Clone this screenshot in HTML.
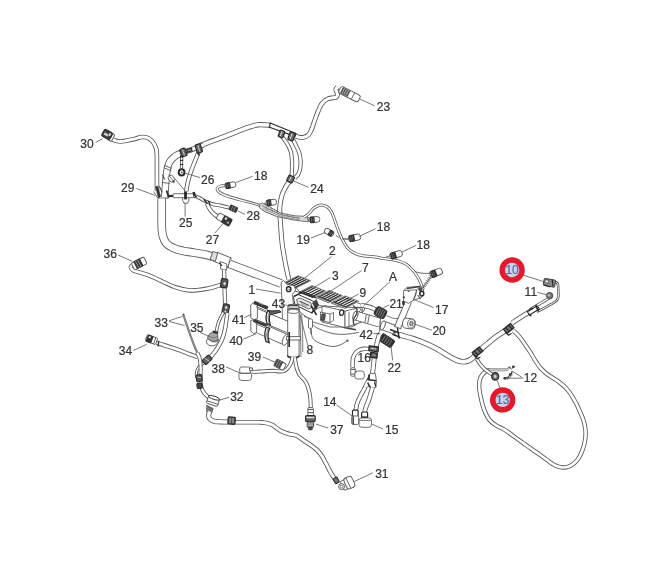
<!DOCTYPE html>
<html><head><meta charset="utf-8"><title>Parts diagram</title>
<style>
html,body{margin:0;padding:0;background:#fff;}
body{width:670px;height:578px;overflow:hidden;font-family:"Liberation Sans",sans-serif;}
svg{display:block;}
svg text{font-family:"Liberation Sans",sans-serif;}
</style></head><body>
<svg width="670" height="578" viewBox="0 0 670 578">
<defs><filter id="idf" x="0" y="0" width="670" height="578" filterUnits="userSpaceOnUse"><feColorMatrix type="matrix" values="1 0 0 0 0 0 1 0 0 0 0 0 1 0 0 0 0 0 1 0"/></filter></defs>
<rect width="670" height="578" fill="#fff"/>
<path d="M290.6 179.5C289.8 180.7 287.4 183.9 286.0 186.5C284.6 189.1 283.0 191.6 282.0 195.0C281.0 198.4 280.1 203.5 279.8 207.0C279.5 210.5 279.9 213.0 280.0 216.0C280.1 219.0 280.4 221.7 280.6 225.0C280.8 228.3 281.1 232.3 281.4 236.0C281.7 239.7 281.9 242.3 282.6 247.0C283.3 251.7 284.6 258.9 285.6 264.3C286.6 269.7 288.3 276.8 288.8 279.3" fill="none" stroke="#565656" stroke-width="5.00" stroke-linecap="butt" stroke-linejoin="round"/>
<path d="M290.6 179.5C289.8 180.7 287.4 183.9 286.0 186.5C284.6 189.1 283.0 191.6 282.0 195.0C281.0 198.4 280.1 203.5 279.8 207.0C279.5 210.5 279.9 213.0 280.0 216.0C280.1 219.0 280.4 221.7 280.6 225.0C280.8 228.3 281.1 232.3 281.4 236.0C281.7 239.7 281.9 242.3 282.6 247.0C283.3 251.7 284.6 258.9 285.6 264.3C286.6 269.7 288.3 276.8 288.8 279.3" fill="none" stroke="#fff" stroke-width="3.30" stroke-linecap="butt" stroke-linejoin="round"/>
<path d="M200.5 145.3C202.9 144.4 208.8 142.4 215.0 140.1C221.2 137.8 232.5 133.3 238.0 131.2C243.5 129.1 244.7 128.6 248.0 127.5C251.3 126.4 254.2 125.2 258.0 124.8C261.8 124.4 268.4 125.1 270.5 125.2" fill="none" stroke="#565656" stroke-width="5.30" stroke-linecap="butt" stroke-linejoin="round"/>
<path d="M200.5 145.3C202.9 144.4 208.8 142.4 215.0 140.1C221.2 137.8 232.5 133.3 238.0 131.2C243.5 129.1 244.7 128.6 248.0 127.5C251.3 126.4 254.2 125.2 258.0 124.8C261.8 124.4 268.4 125.1 270.5 125.2" fill="none" stroke="#fff" stroke-width="3.60" stroke-linecap="butt" stroke-linejoin="round"/>
<path d="M294.0 135.3C294.8 135.6 297.3 136.9 299.0 137.2C300.7 137.5 302.4 137.6 304.0 137.2C305.6 136.8 307.2 136.1 308.5 134.8C309.8 133.5 310.5 131.8 311.5 129.5C312.5 127.2 313.4 124.0 314.5 121.0C315.6 118.0 316.8 114.4 318.0 111.5C319.2 108.6 320.4 105.6 322.0 103.5C323.6 101.4 325.7 100.0 327.5 99.0C329.3 98.0 331.5 98.1 333.0 97.8C334.5 97.5 335.6 97.6 336.4 97.0C337.1 96.4 337.5 95.0 337.5 94.0C337.5 93.0 336.4 91.9 336.2 91.0C335.9 90.1 335.8 89.4 336.0 88.8C336.2 88.2 337.3 87.5 337.6 87.2" fill="none" stroke="#565656" stroke-width="4.80" stroke-linecap="butt" stroke-linejoin="round"/>
<path d="M294.0 135.3C294.8 135.6 297.3 136.9 299.0 137.2C300.7 137.5 302.4 137.6 304.0 137.2C305.6 136.8 307.2 136.1 308.5 134.8C309.8 133.5 310.5 131.8 311.5 129.5C312.5 127.2 313.4 124.0 314.5 121.0C315.6 118.0 316.8 114.4 318.0 111.5C319.2 108.6 320.4 105.6 322.0 103.5C323.6 101.4 325.7 100.0 327.5 99.0C329.3 98.0 331.5 98.1 333.0 97.8C334.5 97.5 335.6 97.6 336.4 97.0C337.1 96.4 337.5 95.0 337.5 94.0C337.5 93.0 336.4 91.9 336.2 91.0C335.9 90.1 335.8 89.4 336.0 88.8C336.2 88.2 337.3 87.5 337.6 87.2" fill="none" stroke="#fff" stroke-width="3.10" stroke-linecap="butt" stroke-linejoin="round"/>
<path d="M280.5 135.0C281.2 135.9 283.6 138.6 285.0 140.5C286.4 142.4 287.7 144.5 288.7 146.5C289.7 148.5 290.4 150.2 291.0 152.5C291.6 154.8 291.8 157.4 292.0 160.0C292.2 162.6 292.1 165.3 292.0 168.0C291.9 170.7 291.7 174.7 291.6 176.0" fill="none" stroke="#565656" stroke-width="4.20" stroke-linecap="butt" stroke-linejoin="round"/>
<path d="M280.5 135.0C281.2 135.9 283.6 138.6 285.0 140.5C286.4 142.4 287.7 144.5 288.7 146.5C289.7 148.5 290.4 150.2 291.0 152.5C291.6 154.8 291.8 157.4 292.0 160.0C292.2 162.6 292.1 165.3 292.0 168.0C291.9 170.7 291.7 174.7 291.6 176.0" fill="none" stroke="#fff" stroke-width="2.50" stroke-linecap="butt" stroke-linejoin="round"/>
<path d="M293.0 139.5C293.5 140.5 295.0 143.4 296.0 145.5C297.0 147.6 298.3 149.9 299.0 152.0C299.7 154.1 300.0 156.0 300.3 158.0C300.6 160.0 300.7 162.0 300.6 164.0C300.5 166.0 300.2 168.2 299.8 170.0C299.4 171.8 298.9 173.1 298.0 174.5C297.1 175.9 295.1 177.8 294.5 178.5" fill="none" stroke="#565656" stroke-width="4.20" stroke-linecap="butt" stroke-linejoin="round"/>
<path d="M293.0 139.5C293.5 140.5 295.0 143.4 296.0 145.5C297.0 147.6 298.3 149.9 299.0 152.0C299.7 154.1 300.0 156.0 300.3 158.0C300.6 160.0 300.7 162.0 300.6 164.0C300.5 166.0 300.2 168.2 299.8 170.0C299.4 171.8 298.9 173.1 298.0 174.5C297.1 175.9 295.1 177.8 294.5 178.5" fill="none" stroke="#fff" stroke-width="2.50" stroke-linecap="butt" stroke-linejoin="round"/>
<path d="M270.2 123.0L296.0 133.5L295.0 136.4L269.4 127.2Z" fill="#fff" stroke="#2b2b2b" stroke-width="1.20" stroke-linecap="butt" stroke-linejoin="round"/>
<rect x="279.0" y="130.5" width="5.0" height="7.0" rx="1.0" fill="#6a6a6a" stroke="#2a2a2a" stroke-width="1.20" transform="rotate(20.0 281.5 134.0)"/>
<line x1="281.1" y1="131.5" x2="281.1" y2="136.5" stroke="#e8e8e8" stroke-width="0.9" transform="rotate(20.0 281.5 134.0)"/>
<rect x="288.8" y="132.5" width="5.5" height="8.0" rx="1.0" fill="#6a6a6a" stroke="#2a2a2a" stroke-width="1.20" transform="rotate(20.0 291.5 136.5)"/>
<line x1="291.1" y1="133.5" x2="291.1" y2="139.5" stroke="#e8e8e8" stroke-width="0.9" transform="rotate(20.0 291.5 136.5)"/>
<g transform="rotate(27 349 94)">
<rect x="338.5" y="90.3" width="22" height="7.4" rx="2.2" fill="#fff" stroke="#565656" stroke-width="0.9"/>
<rect x="340.5" y="90.6" width="8.5" height="6.8" fill="#555" stroke="none"/>
<line x1="342.5" y1="91" x2="342.5" y2="97" stroke="#ddd" stroke-width="0.6"/>
<line x1="344.7" y1="91" x2="344.7" y2="97" stroke="#ddd" stroke-width="0.6"/>
<line x1="346.9" y1="91" x2="346.9" y2="97" stroke="#ddd" stroke-width="0.6"/>
<line x1="353.5" y1="90.3" x2="353.5" y2="97.7" stroke="#565656" stroke-width="0.8"/>
</g>
<rect x="287.6" y="175.8" width="6.0" height="6.5" rx="1.0" fill="#6a6a6a" stroke="#2a2a2a" stroke-width="1.20" transform="rotate(25.0 290.6 179.0)"/>
<line x1="290.2" y1="176.8" x2="290.2" y2="181.2" stroke="#e8e8e8" stroke-width="0.9" transform="rotate(25.0 290.6 179.0)"/>
<path d="M112.0 139.0C112.7 139.3 114.5 140.4 116.0 140.8C117.5 141.2 119.3 141.5 121.0 141.5C122.7 141.5 123.7 141.1 126.0 140.7C128.3 140.3 132.6 139.5 135.0 138.9C137.4 138.3 138.5 137.4 140.4 137.2C142.3 136.9 144.4 136.8 146.3 137.4C148.2 138.0 150.6 139.4 152.1 141.0C153.6 142.6 154.7 144.8 155.5 146.8C156.3 148.8 156.6 149.1 156.8 153.0C157.0 156.9 156.9 163.7 156.9 170.0C156.9 176.3 157.0 187.5 157.0 191.0" fill="none" stroke="#565656" stroke-width="4.60" stroke-linecap="butt" stroke-linejoin="round"/>
<path d="M112.0 139.0C112.7 139.3 114.5 140.4 116.0 140.8C117.5 141.2 119.3 141.5 121.0 141.5C122.7 141.5 123.7 141.1 126.0 140.7C128.3 140.3 132.6 139.5 135.0 138.9C137.4 138.3 138.5 137.4 140.4 137.2C142.3 136.9 144.4 136.8 146.3 137.4C148.2 138.0 150.6 139.4 152.1 141.0C153.6 142.6 154.7 144.8 155.5 146.8C156.3 148.8 156.6 149.1 156.8 153.0C157.0 156.9 156.9 163.7 156.9 170.0C156.9 176.3 157.0 187.5 157.0 191.0" fill="none" stroke="#fff" stroke-width="2.90" stroke-linecap="butt" stroke-linejoin="round"/>
<g transform="rotate(28 108 135.4)">
<rect x="109.2" y="131.6" width="4.6" height="7.6" rx="1" fill="#fff" stroke="#565656" stroke-width=".9"/>
<rect x="102" y="131" width="9.6" height="8" rx="1.6" fill="#3a3a3a" stroke="#2b2b2b" stroke-width=".8"/>
<rect x="103.6" y="134.2" width="4.4" height="2.6" fill="#c8c8c8"/>
<rect x="108.4" y="132.4" width="1.6" height="3" fill="#eee"/>
</g>
<path d="M199.2 150.5C198.9 151.2 198.1 153.2 197.6 154.5C197.1 155.8 196.8 156.5 196.0 158.5C195.2 160.5 193.8 163.8 192.8 166.5C191.8 169.2 190.7 172.2 189.8 175.0C188.9 177.8 188.2 180.2 187.6 183.0C187.0 185.8 186.4 190.1 186.2 191.5" fill="none" stroke="#565656" stroke-width="4.40" stroke-linecap="butt" stroke-linejoin="round"/>
<path d="M199.2 150.5C198.9 151.2 198.1 153.2 197.6 154.5C197.1 155.8 196.8 156.5 196.0 158.5C195.2 160.5 193.8 163.8 192.8 166.5C191.8 169.2 190.7 172.2 189.8 175.0C188.9 177.8 188.2 180.2 187.6 183.0C187.0 185.8 186.4 190.1 186.2 191.5" fill="none" stroke="#fff" stroke-width="2.70" stroke-linecap="butt" stroke-linejoin="round"/>
<path d="M174.4 178.2L185.4 191.2" fill="none" stroke="#565656" stroke-width="0.80" stroke-linecap="butt" stroke-linejoin="round"/>
<path d="M181.0 153.2C180.3 153.5 178.3 154.3 177.0 155.0C175.7 155.7 174.5 156.7 173.4 157.6C172.3 158.5 171.4 159.6 170.6 160.6C169.8 161.6 169.3 162.5 168.8 163.8C168.3 165.1 167.8 166.7 167.4 168.5C167.0 170.3 166.7 172.6 166.4 174.8C166.1 177.1 166.0 179.5 165.8 182.0C165.6 184.5 165.4 187.4 165.2 190.0C165.0 192.6 164.7 196.2 164.6 197.4" fill="none" stroke="#565656" stroke-width="7.40" stroke-linecap="butt" stroke-linejoin="round"/>
<path d="M181.0 153.2C180.3 153.5 178.3 154.3 177.0 155.0C175.7 155.7 174.5 156.7 173.4 157.6C172.3 158.5 171.4 159.6 170.6 160.6C169.8 161.6 169.3 162.5 168.8 163.8C168.3 165.1 167.8 166.7 167.4 168.5C167.0 170.3 166.7 172.6 166.4 174.8C166.1 177.1 166.0 179.5 165.8 182.0C165.6 184.5 165.4 187.4 165.2 190.0C165.0 192.6 164.7 196.2 164.6 197.4" fill="none" stroke="#fff" stroke-width="5.70" stroke-linecap="butt" stroke-linejoin="round"/>
<path d="M164.4 165.4L171.8 168.4" fill="none" stroke="#565656" stroke-width="0.90" stroke-linecap="butt" stroke-linejoin="round"/>
<path d="M163.8 167.8L171.2 170.8" fill="none" stroke="#565656" stroke-width="0.90" stroke-linecap="butt" stroke-linejoin="round"/>
<path d="M162.6 174.6L164.6 179.6" fill="none" stroke="#444" stroke-width="1.20" stroke-linecap="butt" stroke-linejoin="round"/>
<path d="M161.6 182.4L169.8 183.4" fill="none" stroke="#565656" stroke-width="0.90" stroke-linecap="butt" stroke-linejoin="round"/>
<ellipse cx="171.4" cy="178.6" rx="2.8" ry="3.6" fill="#fff" stroke="#565656" stroke-width="0.85" transform="rotate(-35.0 171.4 178.6)"/>
<path d="M168.4 174.6L174.2 182.4" fill="none" stroke="#565656" stroke-width="0.80" stroke-linecap="butt" stroke-linejoin="round"/>
<ellipse cx="173.6" cy="181.6" rx="1.1" ry="1.1" fill="#333" stroke="none" stroke-width="0.00" transform="rotate(0.0 173.6 181.6)"/>
<path d="M179.5 153.6L190.0 150.2L200.5 146.2L203.8 144.9" fill="none" stroke="#565656" stroke-width="5.20" stroke-linecap="butt" stroke-linejoin="round"/>
<path d="M179.5 153.6L190.0 150.2L200.5 146.2L203.8 144.9" fill="none" stroke="#fff" stroke-width="3.50" stroke-linecap="butt" stroke-linejoin="round"/>
<rect x="180.7" y="148.5" width="5.4" height="7.8" rx="1.0" fill="#666" stroke="#2b2b2b" stroke-width="1.20" transform="rotate(-18.0 183.4 152.4)"/>
<path d="M182.4 149.6L184.6 155.6" fill="none" stroke="#ddd" stroke-width="0.80" stroke-linecap="butt" stroke-linejoin="round"/>
<rect x="196.1" y="144.1" width="5.4" height="8.6" rx="1.0" fill="#666" stroke="#2b2b2b" stroke-width="1.20" transform="rotate(-18.0 198.8 148.4)"/>
<path d="M197.8 145.2L200.0 151.8" fill="none" stroke="#ddd" stroke-width="0.80" stroke-linecap="butt" stroke-linejoin="round"/>
<path d="M186.6 149.6L191.4 148.0L192.0 150.8L187.4 152.4Z" fill="#888" stroke="#2b2b2b" stroke-width="1.20" stroke-linecap="butt" stroke-linejoin="round"/>
<path d="M197.4 152.6L199.4 155.4" fill="none" stroke="#2b2b2b" stroke-width="1.60" stroke-linecap="butt" stroke-linejoin="round"/>
<path d="M181.6 156.0L181.5 168.5" fill="none" stroke="#565656" stroke-width="3.20" stroke-linecap="butt" stroke-linejoin="round"/>
<path d="M181.6 156.0L181.5 168.5" fill="none" stroke="#fff" stroke-width="1.50" stroke-linecap="butt" stroke-linejoin="round"/>
<path d="M180.0 156.6L183.2 156.6" fill="none" stroke="#2b2b2b" stroke-width="1.80" stroke-linecap="butt" stroke-linejoin="round"/>
<path d="M180.0 160.4L183.2 160.4" fill="none" stroke="#2b2b2b" stroke-width="1.10" stroke-linecap="butt" stroke-linejoin="round"/>
<path d="M180.0 164.5L183.2 164.5" fill="none" stroke="#2b2b2b" stroke-width="1.10" stroke-linecap="butt" stroke-linejoin="round"/>
<ellipse cx="181.6" cy="172.4" rx="2.9" ry="3.1" fill="#fff" stroke="#2b2b2b" stroke-width="2.00" transform="rotate(0.0 181.6 172.4)"/>
<ellipse cx="181.8" cy="172.6" rx="1.0" ry="1.0" fill="#555" stroke="none" stroke-width="0.00" transform="rotate(0.0 181.8 172.6)"/>
<path d="M155.6 186.6L157.6 186.2L160.6 196.4L158.4 198.2Z" fill="#333" stroke="#2b2b2b" stroke-width="0.60" stroke-linecap="butt" stroke-linejoin="round"/>
<path d="M153.6 191.5L158.0 198.5" fill="none" stroke="#565656" stroke-width="0.80" stroke-linecap="butt" stroke-linejoin="round"/>
<path d="M159.4 186.4L162.2 192.4" fill="none" stroke="#2b2b2b" stroke-width="1.00" stroke-linecap="butt" stroke-linejoin="round"/>
<path d="M166.6 190.6L168.8 197.6" fill="none" stroke="#2b2b2b" stroke-width="1.80" stroke-linecap="butt" stroke-linejoin="round"/>
<path d="M158.0 198.2L168.4 198.2" fill="none" stroke="#565656" stroke-width="0.90" stroke-linecap="butt" stroke-linejoin="round"/>
<path d="M161.7 198.5C161.7 201.2 161.7 210.1 161.7 215.0C161.7 219.9 161.6 224.4 161.8 228.0C162.0 231.6 162.2 233.9 163.0 236.5C163.8 239.1 164.6 241.4 166.3 243.3C168.0 245.2 170.3 246.6 173.0 247.8C175.7 249.1 179.4 250.1 182.6 250.8C185.8 251.6 188.9 251.8 192.0 252.3C195.1 252.8 198.9 253.5 201.4 253.9C203.9 254.3 205.1 254.5 207.0 255.0C208.9 255.5 211.8 256.5 212.7 256.8" fill="none" stroke="#565656" stroke-width="8.60" stroke-linecap="butt" stroke-linejoin="round"/>
<path d="M161.7 198.5C161.7 201.2 161.7 210.1 161.7 215.0C161.7 219.9 161.6 224.4 161.8 228.0C162.0 231.6 162.2 233.9 163.0 236.5C163.8 239.1 164.6 241.4 166.3 243.3C168.0 245.2 170.3 246.6 173.0 247.8C175.7 249.1 179.4 250.1 182.6 250.8C185.8 251.6 188.9 251.8 192.0 252.3C195.1 252.8 198.9 253.5 201.4 253.9C203.9 254.3 205.1 254.5 207.0 255.0C208.9 255.5 211.8 256.5 212.7 256.8" fill="none" stroke="#fff" stroke-width="6.90" stroke-linecap="butt" stroke-linejoin="round"/>
<path d="M229.0 263.8L281.0 283.5" fill="none" stroke="#565656" stroke-width="8.60" stroke-linecap="butt" stroke-linejoin="round"/>
<path d="M229.0 263.8L281.0 283.5" fill="none" stroke="#fff" stroke-width="6.90" stroke-linecap="butt" stroke-linejoin="round"/>
<path d="M215.0 256.6L230.0 262.6" fill="none" stroke="#565656" stroke-width="10.40" stroke-linecap="butt" stroke-linejoin="round"/>
<path d="M215.0 256.6L230.0 262.6" fill="none" stroke="#fff" stroke-width="8.70" stroke-linecap="butt" stroke-linejoin="round"/>
<path d="M230.6 257.6L227.6 268.2" fill="none" stroke="#565656" stroke-width="1.00" stroke-linecap="butt" stroke-linejoin="round"/>
<path d="M211.2 255.4L216.4 257.2" fill="none" stroke="#565656" stroke-width="9.40" stroke-linecap="butt" stroke-linejoin="round"/>
<path d="M211.2 255.4L216.4 257.2" fill="none" stroke="#ddd" stroke-width="7.70" stroke-linecap="butt" stroke-linejoin="round"/>
<path d="M212.8 251.6L210.2 259.6" fill="none" stroke="#565656" stroke-width="0.90" stroke-linecap="butt" stroke-linejoin="round"/>
<path d="M217.8 252.6L215.4 261.4" fill="none" stroke="#565656" stroke-width="0.90" stroke-linecap="butt" stroke-linejoin="round"/>
<path d="M168.0 196.2L173.5 195.8" fill="none" stroke="#2b2b2b" stroke-width="2.20" stroke-linecap="butt" stroke-linejoin="round"/>
<rect x="173.1" y="193.7" width="20.5" height="4.0" rx="0.6" fill="#fff" stroke="#565656" stroke-width="0.85" transform="rotate(0.0 183.3 195.7)"/>
<path d="M185.5 191.4L185.5 199.4" fill="none" stroke="#2b2b2b" stroke-width="2.80" stroke-linecap="butt" stroke-linejoin="round"/>
<path d="M193.6 192.0L195.4 198.0" fill="none" stroke="#2b2b2b" stroke-width="2.60" stroke-linecap="butt" stroke-linejoin="round"/>
<path d="M182.6 198.0L182.6 200.5L184.0 203.2L187.5 203.2L188.9 200.5L188.9 198.0" fill="none" stroke="#565656" stroke-width="0.90" stroke-linecap="butt" stroke-linejoin="round"/>
<path d="M194.0 195.6C194.9 196.0 197.6 197.1 199.5 198.0C201.4 198.9 204.2 200.8 205.2 201.3" fill="none" stroke="#565656" stroke-width="3.60" stroke-linecap="butt" stroke-linejoin="round"/>
<path d="M194.0 195.6C194.9 196.0 197.6 197.1 199.5 198.0C201.4 198.9 204.2 200.8 205.2 201.3" fill="none" stroke="#fff" stroke-width="1.90" stroke-linecap="butt" stroke-linejoin="round"/>
<path d="M193.8 194.0L196.5 197.5" fill="none" stroke="#2b2b2b" stroke-width="1.60" stroke-linecap="butt" stroke-linejoin="round"/>
<path d="M205.0 201.2C206.3 201.7 210.2 203.5 212.7 204.2C215.2 204.9 217.3 204.8 220.0 205.4C222.7 206.0 227.3 207.2 228.8 207.6" fill="none" stroke="#565656" stroke-width="3.80" stroke-linecap="butt" stroke-linejoin="round"/>
<path d="M205.0 201.2C206.3 201.7 210.2 203.5 212.7 204.2C215.2 204.9 217.3 204.8 220.0 205.4C222.7 206.0 227.3 207.2 228.8 207.6" fill="none" stroke="#fff" stroke-width="2.10" stroke-linecap="butt" stroke-linejoin="round"/>
<path d="M207.2 203.5C207.4 204.1 207.9 205.7 208.6 207.0C209.3 208.3 210.5 210.3 211.6 211.6C212.7 212.9 213.8 213.8 215.0 214.8C216.2 215.8 218.0 217.0 218.6 217.4" fill="none" stroke="#565656" stroke-width="4.40" stroke-linecap="butt" stroke-linejoin="round"/>
<path d="M207.2 203.5C207.4 204.1 207.9 205.7 208.6 207.0C209.3 208.3 210.5 210.3 211.6 211.6C212.7 212.9 213.8 213.8 215.0 214.8C216.2 215.8 218.0 217.0 218.6 217.4" fill="none" stroke="#fff" stroke-width="2.70" stroke-linecap="butt" stroke-linejoin="round"/>
<path d="M203.8 199.2L207.5 203.8" fill="none" stroke="#2b2b2b" stroke-width="1.50" stroke-linecap="butt" stroke-linejoin="round"/>
<path d="M208.5 201.0L210.0 205.2" fill="none" stroke="#2b2b2b" stroke-width="1.40" stroke-linecap="butt" stroke-linejoin="round"/>
<g transform="rotate(25 233.2 208.6)"><rect x="229" y="205.6" width="8.6" height="6" rx="1" fill="#3a3a3a"/><line x1="232" y1="206" x2="232" y2="211.4" stroke="#aaa" stroke-width=".6"/><line x1="234.6" y1="206" x2="234.6" y2="211.4" stroke="#aaa" stroke-width=".6"/></g>
<g transform="rotate(30 224.6 219.6)"><rect x="216.6" y="216.2" width="8" height="6.8" rx="2" fill="#fff" stroke="#565656" stroke-width="0.9"/><rect x="222.4" y="215.4" width="9.6" height="8.4" rx="1.6" fill="#333"/><rect x="224.2" y="216.8" width="2.2" height="2.4" fill="#e0e0e0"/><rect x="228" y="219.6" width="2" height="2" fill="#bbb"/></g>
<path d="M225.0 185.2C224.2 185.4 221.3 185.8 220.0 186.3C218.7 186.8 217.4 187.5 217.2 188.4C217.0 189.3 217.7 190.9 218.8 192.0C219.9 193.1 222.1 194.0 224.0 194.8C225.9 195.6 226.3 195.9 230.0 197.0C233.7 198.1 241.5 200.1 246.3 201.4C251.1 202.8 254.9 203.4 258.9 205.1C262.9 206.8 265.8 209.6 270.2 211.4C274.6 213.2 280.4 215.1 285.2 216.2C290.0 217.3 295.0 217.6 299.0 218.0C303.0 218.4 307.3 218.3 309.0 218.4" fill="none" stroke="#565656" stroke-width="3.00" stroke-linecap="butt" stroke-linejoin="round"/>
<path d="M225.0 185.2C224.2 185.4 221.3 185.8 220.0 186.3C218.7 186.8 217.4 187.5 217.2 188.4C217.0 189.3 217.7 190.9 218.8 192.0C219.9 193.1 222.1 194.0 224.0 194.8C225.9 195.6 226.3 195.9 230.0 197.0C233.7 198.1 241.5 200.1 246.3 201.4C251.1 202.8 254.9 203.4 258.9 205.1C262.9 206.8 265.8 209.6 270.2 211.4C274.6 213.2 280.4 215.1 285.2 216.2C290.0 217.3 295.0 217.6 299.0 218.0C303.0 218.4 307.3 218.3 309.0 218.4" fill="none" stroke="#fff" stroke-width="1.50" stroke-linecap="butt" stroke-linejoin="round"/>
<path d="M218.4 189.4C219.4 190.1 222.5 192.7 224.6 193.8C226.7 194.9 227.4 195.1 231.0 196.2C234.6 197.3 241.6 199.2 246.3 200.6C251.0 202.0 256.9 203.8 259.0 204.4" fill="none" stroke="#777" stroke-width="0.60" stroke-linecap="butt" stroke-linejoin="round"/>
<path d="M266.0 203.6C265.3 204.0 262.3 204.9 262.0 206.0C261.7 207.1 262.3 208.7 264.0 210.0C265.7 211.3 268.3 212.3 272.0 213.6C275.7 214.9 281.3 216.6 286.0 217.6C290.7 218.6 296.2 219.2 300.0 219.6C303.8 220.0 307.5 219.8 309.0 219.8" fill="none" stroke="#565656" stroke-width="2.00" stroke-linecap="butt" stroke-linejoin="round"/>
<path d="M266.0 203.6C265.3 204.0 262.3 204.9 262.0 206.0C261.7 207.1 262.3 208.7 264.0 210.0C265.7 211.3 268.3 212.3 272.0 213.6C275.7 214.9 281.3 216.6 286.0 217.6C290.7 218.6 296.2 219.2 300.0 219.6C303.8 220.0 307.5 219.8 309.0 219.8" fill="none" stroke="#fff" stroke-width="0.70" stroke-linecap="butt" stroke-linejoin="round"/>
<path d="M259.6 204.2L262.4 203.0L272.0 208.2L281.0 213.2L295.0 215.8L307.0 216.4L308.5 221.8L294.5 220.2L276.5 216.5L265.0 211.7L259.6 208.0Z" fill="#d8d8d8" stroke="#565656" stroke-width="0.80" stroke-linecap="butt" stroke-linejoin="round"/>
<path d="M262.0 205.6L281.0 214.8L300.0 218.4" fill="none" stroke="#555" stroke-width="0.70" stroke-linecap="butt" stroke-linejoin="round"/>
<path d="M263.0 208.4L280.0 216.0L298.0 219.8" fill="none" stroke="#777" stroke-width="0.60" stroke-linecap="butt" stroke-linejoin="round"/>
<path d="M266.0 206.4L267.6 210.2" fill="none" stroke="#666" stroke-width="0.60" stroke-linecap="butt" stroke-linejoin="round"/>
<path d="M271.2 208.2L272.8 211.9" fill="none" stroke="#666" stroke-width="0.60" stroke-linecap="butt" stroke-linejoin="round"/>
<path d="M276.4 209.9L278.0 213.7" fill="none" stroke="#666" stroke-width="0.60" stroke-linecap="butt" stroke-linejoin="round"/>
<path d="M281.6 211.7L283.2 215.4" fill="none" stroke="#666" stroke-width="0.60" stroke-linecap="butt" stroke-linejoin="round"/>
<path d="M286.8 213.4L288.4 217.2" fill="none" stroke="#666" stroke-width="0.60" stroke-linecap="butt" stroke-linejoin="round"/>
<path d="M292.0 215.2L293.6 218.9" fill="none" stroke="#666" stroke-width="0.60" stroke-linecap="butt" stroke-linejoin="round"/>
<path d="M297.2 216.9L298.8 220.7" fill="none" stroke="#666" stroke-width="0.60" stroke-linecap="butt" stroke-linejoin="round"/>
<path d="M304.0 217.4C304.8 216.8 307.5 214.9 309.0 213.5C310.5 212.1 311.6 210.1 313.0 208.8C314.4 207.6 315.8 206.6 317.5 206.0C319.2 205.4 321.2 204.9 323.0 205.2C324.8 205.4 326.5 206.3 328.0 207.5C329.5 208.7 330.7 210.5 331.8 212.5C332.9 214.5 333.6 216.9 334.5 219.5C335.4 222.1 336.3 224.8 337.5 228.0C338.7 231.2 340.1 235.1 341.8 238.5C343.6 241.9 345.6 245.8 348.0 248.4C350.4 251.0 353.2 252.5 356.0 253.8C358.8 255.1 361.8 255.5 365.0 256.0C368.2 256.5 372.0 256.6 375.2 257.0C378.4 257.4 381.0 258.1 384.0 258.6C387.0 259.1 390.2 259.3 393.0 259.8C395.8 260.3 398.7 261.0 401.0 261.8C403.3 262.6 405.3 263.6 407.0 264.8C408.7 266.0 410.0 267.4 411.4 268.8C412.8 270.2 414.2 271.8 415.4 273.5C416.6 275.2 417.8 277.2 418.8 279.0C419.8 280.8 420.7 282.9 421.4 284.5C422.1 286.1 422.7 287.8 423.0 288.4" fill="none" stroke="#565656" stroke-width="3.00" stroke-linecap="butt" stroke-linejoin="round"/>
<path d="M304.0 217.4C304.8 216.8 307.5 214.9 309.0 213.5C310.5 212.1 311.6 210.1 313.0 208.8C314.4 207.6 315.8 206.6 317.5 206.0C319.2 205.4 321.2 204.9 323.0 205.2C324.8 205.4 326.5 206.3 328.0 207.5C329.5 208.7 330.7 210.5 331.8 212.5C332.9 214.5 333.6 216.9 334.5 219.5C335.4 222.1 336.3 224.8 337.5 228.0C338.7 231.2 340.1 235.1 341.8 238.5C343.6 241.9 345.6 245.8 348.0 248.4C350.4 251.0 353.2 252.5 356.0 253.8C358.8 255.1 361.8 255.5 365.0 256.0C368.2 256.5 372.0 256.6 375.2 257.0C378.4 257.4 381.0 258.1 384.0 258.6C387.0 259.1 390.2 259.3 393.0 259.8C395.8 260.3 398.7 261.0 401.0 261.8C403.3 262.6 405.3 263.6 407.0 264.8C408.7 266.0 410.0 267.4 411.4 268.8C412.8 270.2 414.2 271.8 415.4 273.5C416.6 275.2 417.8 277.2 418.8 279.0C419.8 280.8 420.7 282.9 421.4 284.5C422.1 286.1 422.7 287.8 423.0 288.4" fill="none" stroke="#fff" stroke-width="1.50" stroke-linecap="butt" stroke-linejoin="round"/>
<g transform="rotate(-12.0 230.3 185.2)">
<rect x="224.8" y="182.5" width="11.0" height="5.4" rx="2.2" fill="#fff" stroke="#565656" stroke-width="0.9"/>
<rect x="225.4" y="182.0" width="5.1" height="6.4" rx="1.2" fill="#2c2c2c"/>
<line x1="227.2" y1="183.1" x2="227.2" y2="187.3" stroke="#999" stroke-width=".55"/>
<line x1="229.0" y1="183.1" x2="229.0" y2="187.3" stroke="#888" stroke-width=".5"/>
</g>
<g transform="rotate(-8.0 271.2 202.5)">
<rect x="265.9" y="199.7" width="10.5" height="5.6" rx="2.2" fill="#fff" stroke="#565656" stroke-width="0.9"/>
<rect x="266.6" y="199.2" width="4.8" height="6.6" rx="1.2" fill="#2c2c2c"/>
<line x1="268.3" y1="200.3" x2="268.3" y2="204.7" stroke="#999" stroke-width=".55"/>
<line x1="270.1" y1="200.3" x2="270.1" y2="204.7" stroke="#888" stroke-width=".5"/>
</g>
<g transform="rotate(-5.0 314.5 219.6)">
<rect x="309.2" y="216.8" width="10.5" height="5.6" rx="2.2" fill="#fff" stroke="#565656" stroke-width="0.9"/>
<rect x="309.9" y="216.3" width="4.8" height="6.6" rx="1.2" fill="#2c2c2c"/>
<line x1="311.6" y1="217.4" x2="311.6" y2="221.8" stroke="#999" stroke-width=".55"/>
<line x1="313.4" y1="217.4" x2="313.4" y2="221.8" stroke="#888" stroke-width=".5"/>
</g>
<g transform="rotate(-150.0 329.0 232.3)">
<rect x="324.2" y="229.6" width="9.5" height="5.4" rx="2.2" fill="#fff" stroke="#565656" stroke-width="0.9"/>
<rect x="324.9" y="229.1" width="4.4" height="6.4" rx="1.2" fill="#2c2c2c"/>
<line x1="326.6" y1="230.2" x2="326.6" y2="234.4" stroke="#999" stroke-width=".55"/>
<line x1="328.4" y1="230.2" x2="328.4" y2="234.4" stroke="#888" stroke-width=".5"/>
</g>
<g transform="rotate(-12.0 354.5 237.8)">
<rect x="348.5" y="234.8" width="12.0" height="6.0" rx="2.2" fill="#fff" stroke="#565656" stroke-width="0.9"/>
<rect x="349.1" y="234.3" width="5.5" height="7.0" rx="1.2" fill="#2c2c2c"/>
<line x1="350.9" y1="235.4" x2="350.9" y2="240.2" stroke="#999" stroke-width=".55"/>
<line x1="352.7" y1="235.4" x2="352.7" y2="240.2" stroke="#888" stroke-width=".5"/>
</g>
<g transform="rotate(-18.0 396.0 254.8)">
<rect x="389.8" y="251.8" width="12.5" height="6.0" rx="2.2" fill="#fff" stroke="#565656" stroke-width="0.9"/>
<rect x="390.4" y="251.3" width="5.8" height="7.0" rx="1.2" fill="#2c2c2c"/>
<line x1="392.1" y1="252.4" x2="392.1" y2="257.2" stroke="#999" stroke-width=".55"/>
<line x1="393.9" y1="252.4" x2="393.9" y2="257.2" stroke="#888" stroke-width=".5"/>
</g>
<path d="M336.0 235.5L339.5 238.0" fill="none" stroke="#565656" stroke-width="0.80" stroke-linecap="butt" stroke-linejoin="round"/>
<path d="M348.8 239.2L342.5 238.8" fill="none" stroke="#555" stroke-width="1.20" stroke-linecap="butt" stroke-linejoin="round"/>
<path d="M390.5 255.8L386.0 257.0" fill="none" stroke="#565656" stroke-width="0.80" stroke-linecap="butt" stroke-linejoin="round"/>
<path d="M220.2 261.5L226.8 264.0L226.6 270.0L220.6 269.0Z" fill="#fff" stroke="#565656" stroke-width="0.85" stroke-linecap="butt" stroke-linejoin="round"/>
<path d="M219.5 262.5L222.0 266.0" fill="none" stroke="#2b2b2b" stroke-width="1.20" stroke-linecap="butt" stroke-linejoin="round"/>
<path d="M224.0 269.5C224.1 271.2 224.3 275.6 224.4 280.0C224.5 284.4 224.6 291.2 224.8 296.0C225.0 300.8 225.3 306.8 225.4 309.0" fill="none" stroke="#565656" stroke-width="4.20" stroke-linecap="butt" stroke-linejoin="round"/>
<path d="M224.0 269.5C224.1 271.2 224.3 275.6 224.4 280.0C224.5 284.4 224.6 291.2 224.8 296.0C225.0 300.8 225.3 306.8 225.4 309.0" fill="none" stroke="#fff" stroke-width="2.50" stroke-linecap="butt" stroke-linejoin="round"/>
<path d="M132.6 264.5C132.3 265.0 130.7 266.4 130.8 267.4C131.0 268.4 131.5 269.6 133.5 270.6C135.5 271.6 139.8 272.3 143.0 273.4C146.2 274.4 149.2 275.4 152.7 276.9C156.2 278.4 160.2 280.5 164.0 282.2C167.8 283.9 171.3 285.9 175.3 287.2C179.3 288.5 184.2 289.7 187.8 290.2C191.4 290.7 194.1 290.4 197.0 290.2C199.9 290.0 202.6 289.5 205.3 289.0C208.0 288.5 210.5 288.1 213.0 287.4C215.5 286.7 219.2 285.4 220.5 285.0" fill="none" stroke="#565656" stroke-width="4.40" stroke-linecap="butt" stroke-linejoin="round"/>
<path d="M132.6 264.5C132.3 265.0 130.7 266.4 130.8 267.4C131.0 268.4 131.5 269.6 133.5 270.6C135.5 271.6 139.8 272.3 143.0 273.4C146.2 274.4 149.2 275.4 152.7 276.9C156.2 278.4 160.2 280.5 164.0 282.2C167.8 283.9 171.3 285.9 175.3 287.2C179.3 288.5 184.2 289.7 187.8 290.2C191.4 290.7 194.1 290.4 197.0 290.2C199.9 290.0 202.6 289.5 205.3 289.0C208.0 288.5 210.5 288.1 213.0 287.4C215.5 286.7 219.2 285.4 220.5 285.0" fill="none" stroke="#fff" stroke-width="2.70" stroke-linecap="butt" stroke-linejoin="round"/>
<g transform="translate(0.6 1.2) rotate(-27 138.5 262.2)"><rect x="131.5" y="258.4" width="14" height="7.6" rx="1.5" fill="#fff" stroke="#565656" stroke-width=".9"/><rect x="134" y="257.8" width="7.5" height="8.8" rx="1.2" fill="#3a3a3a"/><line x1="136.3" y1="258.2" x2="136.3" y2="266.2" stroke="#bbb" stroke-width=".6"/><line x1="138.8" y1="258.2" x2="138.8" y2="266.2" stroke="#bbb" stroke-width=".6"/></g>
<rect x="220.9" y="278.7" width="6.6" height="9.0" rx="1.5" fill="#555" stroke="#2b2b2b" stroke-width="1.20" transform="rotate(8.0 224.2 283.2)"/>
<ellipse cx="224.6" cy="283.6" rx="1.3" ry="1.6" fill="#ddd" stroke="none" stroke-width="0.00" transform="rotate(0.0 224.6 283.6)"/>
<rect x="222.7" y="304.1" width="6.2" height="9.4" rx="1.5" fill="#555" stroke="#2b2b2b" stroke-width="1.20" transform="rotate(12.0 225.8 308.8)"/>
<ellipse cx="226.2" cy="307.6" rx="1.2" ry="1.5" fill="#ddd" stroke="none" stroke-width="0.00" transform="rotate(0.0 226.2 307.6)"/>
<ellipse cx="225.4" cy="311.4" rx="1.0" ry="1.2" fill="#ccc" stroke="none" stroke-width="0.00" transform="rotate(0.0 225.4 311.4)"/>
<path d="M223.4 312.6C222.9 313.4 221.5 315.6 220.6 317.5C219.7 319.4 218.7 321.7 218.0 324.0C217.3 326.3 216.7 330.2 216.4 331.4" fill="none" stroke="#565656" stroke-width="3.40" stroke-linecap="butt" stroke-linejoin="round"/>
<path d="M223.4 312.6C222.9 313.4 221.5 315.6 220.6 317.5C219.7 319.4 218.7 321.7 218.0 324.0C217.3 326.3 216.7 330.2 216.4 331.4" fill="none" stroke="#fff" stroke-width="1.70" stroke-linecap="butt" stroke-linejoin="round"/>
<path d="M227.4 313.0C227.2 314.2 226.8 317.5 226.4 320.0C226.0 322.5 225.7 325.6 225.2 328.2C224.7 330.8 224.1 333.3 223.4 335.5C222.7 337.7 222.0 339.5 221.0 341.6C220.0 343.7 218.7 345.9 217.4 348.0C216.1 350.1 214.4 352.4 213.0 354.2C211.6 356.0 209.7 358.0 209.0 358.8" fill="none" stroke="#565656" stroke-width="4.40" stroke-linecap="butt" stroke-linejoin="round"/>
<path d="M227.4 313.0C227.2 314.2 226.8 317.5 226.4 320.0C226.0 322.5 225.7 325.6 225.2 328.2C224.7 330.8 224.1 333.3 223.4 335.5C222.7 337.7 222.0 339.5 221.0 341.6C220.0 343.7 218.7 345.9 217.4 348.0C216.1 350.1 214.4 352.4 213.0 354.2C211.6 356.0 209.7 358.0 209.0 358.8" fill="none" stroke="#fff" stroke-width="2.70" stroke-linecap="butt" stroke-linejoin="round"/>
<ellipse cx="212.4" cy="341.2" rx="6.0" ry="4.6" fill="#fff" stroke="#565656" stroke-width="0.85" transform="rotate(-12.0 212.4 341.2)"/>
<path d="M207.2 337.6 L210.6 332.8 L217.6 333.6 L218.2 340.6 Q213 344.6 207.2 337.6Z" fill="#a8a8a8" stroke="#565656" stroke-width=".8"/>
<path d="M207.8 338.6C208.6 339.1 210.9 341.2 212.6 341.4C214.3 341.6 217.1 339.9 218.0 339.6" fill="none" stroke="#555" stroke-width="0.80" stroke-linecap="butt" stroke-linejoin="round"/>
<path d="M208.6 335.6C209.3 336.0 211.5 337.7 213.0 337.8C214.5 337.9 217.0 336.6 217.8 336.4" fill="none" stroke="#666" stroke-width="0.80" stroke-linecap="butt" stroke-linejoin="round"/>
<path d="M212.6 331.6L218.2 332.8" fill="none" stroke="#2b2b2b" stroke-width="2.00" stroke-linecap="butt" stroke-linejoin="round"/>
<path d="M156.4 342.6C157.7 343.0 161.3 344.3 164.0 345.2C166.7 346.1 169.9 347.0 172.7 347.9C175.5 348.8 178.1 349.7 181.0 350.8C183.9 351.9 187.6 353.4 190.3 354.4C193.0 355.4 196.1 356.6 197.3 357.0" fill="none" stroke="#565656" stroke-width="4.40" stroke-linecap="butt" stroke-linejoin="round"/>
<path d="M156.4 342.6C157.7 343.0 161.3 344.3 164.0 345.2C166.7 346.1 169.9 347.0 172.7 347.9C175.5 348.8 178.1 349.7 181.0 350.8C183.9 351.9 187.6 353.4 190.3 354.4C193.0 355.4 196.1 356.6 197.3 357.0" fill="none" stroke="#fff" stroke-width="2.70" stroke-linecap="butt" stroke-linejoin="round"/>
<g transform="rotate(20 151.5 339.5)"><rect x="146" y="336.2" width="11" height="6.8" rx="1.2" fill="#fff" stroke="#565656" stroke-width=".9"/><rect x="146.5" y="335.8" width="6" height="7.6" rx="1" fill="#333"/><rect x="148" y="337" width="2.2" height="2" fill="#ddd"/><line x1="155" y1="336.2" x2="155" y2="343" stroke="#565656" stroke-width=".8"/></g>
<path d="M158.8 341.0L158.0 346.5" fill="none" stroke="#2b2b2b" stroke-width="1.30" stroke-linecap="butt" stroke-linejoin="round"/>
<path d="M207.5 360.2C206.8 360.7 205.0 361.8 203.5 363.0C202.0 364.2 199.7 365.9 198.5 367.5C197.3 369.1 196.7 370.8 196.4 372.5C196.1 374.2 196.6 377.1 196.6 378.0" fill="none" stroke="#565656" stroke-width="3.00" stroke-linecap="butt" stroke-linejoin="round"/>
<path d="M207.5 360.2C206.8 360.7 205.0 361.8 203.5 363.0C202.0 364.2 199.7 365.9 198.5 367.5C197.3 369.1 196.7 370.8 196.4 372.5C196.1 374.2 196.6 377.1 196.6 378.0" fill="none" stroke="#fff" stroke-width="1.30" stroke-linecap="butt" stroke-linejoin="round"/>
<path d="M183.4 315.0C184.2 317.2 186.4 323.8 188.0 328.5C189.6 333.2 191.6 338.8 193.2 343.0C194.8 347.2 196.9 351.8 197.6 353.5" fill="none" stroke="#5a5a5a" stroke-width="2.10" stroke-linecap="butt" stroke-linejoin="round"/>
<path d="M183.4 315.0C184.2 317.2 186.4 323.8 188.0 328.5C189.6 333.2 191.6 338.8 193.2 343.0C194.8 347.2 196.9 351.8 197.6 353.5" fill="none" stroke="#fff" stroke-width="0.40" stroke-linecap="butt" stroke-linejoin="round"/>
<path d="M197.2 352.5C197.6 353.4 199.0 355.8 199.6 358.0C200.2 360.2 200.4 363.3 200.6 366.0C200.8 368.7 200.6 371.5 200.6 374.0C200.6 376.5 200.2 378.7 200.4 381.0C200.6 383.3 200.9 385.9 201.6 388.0C202.3 390.1 203.4 391.9 204.6 393.5C205.8 395.1 207.9 396.8 208.6 397.5" fill="none" stroke="#565656" stroke-width="4.00" stroke-linecap="butt" stroke-linejoin="round"/>
<path d="M197.2 352.5C197.6 353.4 199.0 355.8 199.6 358.0C200.2 360.2 200.4 363.3 200.6 366.0C200.8 368.7 200.6 371.5 200.6 374.0C200.6 376.5 200.2 378.7 200.4 381.0C200.6 383.3 200.9 385.9 201.6 388.0C202.3 390.1 203.4 391.9 204.6 393.5C205.8 395.1 207.9 396.8 208.6 397.5" fill="none" stroke="#fff" stroke-width="2.30" stroke-linecap="butt" stroke-linejoin="round"/>
<ellipse cx="183.4" cy="314.6" rx="1.0" ry="1.0" fill="#555" stroke="none" stroke-width="0.00" transform="rotate(0.0 183.4 314.6)"/>
<rect x="202.9" y="357.0" width="8.6" height="5.6" rx="1.0" fill="#666" stroke="#2b2b2b" stroke-width="1.20" transform="rotate(-42.0 207.2 359.8)"/>
<path d="M204.6 358.2L209.6 361.6" fill="none" stroke="#ddd" stroke-width="0.80" stroke-linecap="butt" stroke-linejoin="round"/>
<rect x="196.4" y="374.8" width="5.6" height="6.8" rx="1.0" fill="#555" stroke="#2b2b2b" stroke-width="1.10" transform="rotate(-8.0 199.2 378.2)"/>
<path d="M197.4 377.0L200.8 377.6" fill="none" stroke="#ddd" stroke-width="0.80" stroke-linecap="butt" stroke-linejoin="round"/>
<rect x="197.0" y="383.2" width="5.2" height="5.2" rx="1.0" fill="#444" stroke="#2b2b2b" stroke-width="1.00" transform="rotate(-8.0 199.6 385.8)"/>
<path d="M206.8 405.2L213.2 408.6L211.6 413.2L206.6 411.6Z" fill="#999" stroke="#565656" stroke-width="0.80" stroke-linecap="butt" stroke-linejoin="round"/>
<path d="M207.4 406.8L212.4 409.4" fill="none" stroke="#333" stroke-width="0.70" stroke-linecap="butt" stroke-linejoin="round"/>
<path d="M207.0 408.6L212.0 411.0" fill="none" stroke="#333" stroke-width="0.70" stroke-linecap="butt" stroke-linejoin="round"/>
<g transform="rotate(18 213 401)"><rect x="207.2" y="397.4" width="11.6" height="7.6" rx="1.2" fill="#fff" stroke="#565656" stroke-width=".9"/><ellipse cx="213" cy="397.6" rx="5.8" ry="1.6" fill="#fff" stroke="#2b2b2b" stroke-width=".9"/><line x1="207.2" y1="402.6" x2="218.8" y2="402.6" stroke="#565656" stroke-width=".8"/></g>
<path d="M209.6 411.6C209.4 412.2 208.5 414.3 208.6 415.5C208.7 416.7 209.1 418.1 210.0 419.0C210.9 419.9 212.3 420.7 214.0 421.2C215.7 421.7 217.7 421.7 220.0 421.8C222.3 421.9 226.7 422.0 228.0 422.0" fill="none" stroke="#565656" stroke-width="5.20" stroke-linecap="butt" stroke-linejoin="round"/>
<path d="M209.6 411.6C209.4 412.2 208.5 414.3 208.6 415.5C208.7 416.7 209.1 418.1 210.0 419.0C210.9 419.9 212.3 420.7 214.0 421.2C215.7 421.7 217.7 421.7 220.0 421.8C222.3 421.9 226.7 422.0 228.0 422.0" fill="none" stroke="#fff" stroke-width="3.50" stroke-linecap="butt" stroke-linejoin="round"/>
<path d="M228.0 422.0C229.7 422.0 234.3 422.1 238.0 422.2C241.7 422.2 246.8 422.3 250.3 422.3C253.8 422.3 256.6 422.2 259.0 422.3C261.4 422.4 262.7 422.3 264.9 422.7C267.1 423.1 269.5 423.6 272.0 424.8C274.5 426.1 277.0 428.7 279.7 430.2C282.4 431.7 285.6 432.9 288.3 433.8C291.0 434.7 293.5 434.2 296.0 435.3C298.5 436.4 300.8 438.5 303.2 440.1C305.6 441.7 308.1 443.3 310.5 445.0C312.9 446.7 315.6 448.6 317.5 450.5C319.4 452.4 320.8 454.3 322.2 456.5C323.6 458.7 324.8 461.2 326.0 463.5C327.2 465.8 328.4 468.4 329.6 470.5C330.8 472.6 332.0 474.8 333.0 476.3C334.0 477.8 335.2 479.1 335.6 479.6" fill="none" stroke="#565656" stroke-width="4.60" stroke-linecap="butt" stroke-linejoin="round"/>
<path d="M228.0 422.0C229.7 422.0 234.3 422.1 238.0 422.2C241.7 422.2 246.8 422.3 250.3 422.3C253.8 422.3 256.6 422.2 259.0 422.3C261.4 422.4 262.7 422.3 264.9 422.7C267.1 423.1 269.5 423.6 272.0 424.8C274.5 426.1 277.0 428.7 279.7 430.2C282.4 431.7 285.6 432.9 288.3 433.8C291.0 434.7 293.5 434.2 296.0 435.3C298.5 436.4 300.8 438.5 303.2 440.1C305.6 441.7 308.1 443.3 310.5 445.0C312.9 446.7 315.6 448.6 317.5 450.5C319.4 452.4 320.8 454.3 322.2 456.5C323.6 458.7 324.8 461.2 326.0 463.5C327.2 465.8 328.4 468.4 329.6 470.5C330.8 472.6 332.0 474.8 333.0 476.3C334.0 477.8 335.2 479.1 335.6 479.6" fill="none" stroke="#fff" stroke-width="2.90" stroke-linecap="butt" stroke-linejoin="round"/>
<rect x="228.0" y="417.1" width="7.2" height="7.0" rx="1.0" fill="#555" stroke="#2b2b2b" stroke-width="1.20" transform="rotate(5.0 231.6 420.6)"/>
<path d="M230.0 418.0L230.0 423.2" fill="none" stroke="#ccc" stroke-width="0.80" stroke-linecap="butt" stroke-linejoin="round"/>
<path d="M233.0 418.0L233.0 423.2" fill="none" stroke="#ccc" stroke-width="0.80" stroke-linecap="butt" stroke-linejoin="round"/>
<rect x="334.1" y="477.6" width="4.2" height="5.6" rx="0.8" fill="#777" stroke="#2b2b2b" stroke-width="1.10" transform="rotate(-30.0 336.2 480.4)"/>
<g transform="rotate(-25 347.5 483.4)"><rect x="341.5" y="478.6" width="6" height="9.8" rx="1.5" fill="#fff" stroke="#565656" stroke-width=".9"/><rect x="345.2" y="477.6" width="8.6" height="11.8" rx="2.6" fill="#fff" stroke="#565656" stroke-width=".9"/><line x1="348.4" y1="477.8" x2="348.4" y2="489.2" stroke="#565656" stroke-width=".8"/></g>
<ellipse cx="341.6" cy="486.6" rx="3.0" ry="3.0" fill="#eee" stroke="#565656" stroke-width="0.90" transform="rotate(0.0 341.6 486.6)"/>
<ellipse cx="341.6" cy="486.6" rx="1.4" ry="1.4" fill="#fff" stroke="#565656" stroke-width="0.70" transform="rotate(0.0 341.6 486.6)"/>
<path d="M312.5 324.6C313.2 325.2 315.3 327.0 317.0 328.0C318.7 329.0 320.6 329.6 322.6 330.4C324.6 331.2 326.9 332.0 329.0 332.6C331.1 333.2 332.8 333.6 335.0 333.9C337.2 334.2 339.5 334.4 342.0 334.4C344.5 334.4 347.2 334.1 350.0 333.8C352.8 333.5 357.5 332.6 359.0 332.4" fill="none" stroke="#565656" stroke-width="0.90" stroke-linecap="butt" stroke-linejoin="round"/>
<path d="M333.6 323.0L345.0 327.8L356.0 329.8" fill="none" stroke="#444" stroke-width="1.50" stroke-linecap="butt" stroke-linejoin="round"/>
<path d="M311.3 328.8C311.5 330.3 311.1 335.3 312.4 337.6C313.6 339.9 315.6 341.3 318.8 342.8C322.0 344.3 327.8 346.0 331.3 346.4C334.8 346.8 337.5 345.8 340.0 345.0C342.5 344.2 345.3 342.0 346.4 341.4" fill="none" stroke="#565656" stroke-width="0.90" stroke-linecap="butt" stroke-linejoin="round"/>
<ellipse cx="347.4" cy="340.6" rx="1.2" ry="1.2" fill="#555" stroke="none" stroke-width="0.00" transform="rotate(0.0 347.4 340.6)"/>
<path d="M294.0 296.0L310.0 303.0L322.0 306.0L362.0 308.0L362.0 321.0L352.0 327.0L330.0 327.0L313.0 322.0L300.0 312.0Z" fill="#fff" stroke="#565656" stroke-width="0.85" stroke-linecap="butt" stroke-linejoin="round"/>
<path d="M322.0 306.0L345.0 311.0L345.0 327.5L322.0 322.0Z" fill="#fff" stroke="#565656" stroke-width="0.85" stroke-linecap="butt" stroke-linejoin="round"/>
<path d="M345.0 311.0L362.0 307.0L362.0 322.0L345.0 327.5Z" fill="#fff" stroke="#565656" stroke-width="0.85" stroke-linecap="butt" stroke-linejoin="round"/>
<path d="M349.0 312.0L349.0 326.5" fill="none" stroke="#565656" stroke-width="0.80" stroke-linecap="butt" stroke-linejoin="round"/>
<path d="M320.5 312.0L330.0 314.0L330.0 322.5L320.5 320.5Z" fill="#fff" stroke="#565656" stroke-width="0.85" stroke-linecap="butt" stroke-linejoin="round"/>
<rect x="321.4" y="313.8" width="3.6" height="6.5" rx="0.6" fill="#555" stroke="#2b2b2b" stroke-width="0.70" transform="rotate(8.0 323.2 317.0)"/>
<path d="M330.0 314.0L333.5 312.5L333.5 320.5L330.0 322.5" fill="none" stroke="#565656" stroke-width="0.80" stroke-linecap="butt" stroke-linejoin="round"/>
<ellipse cx="341.6" cy="312.6" rx="2.0" ry="2.8" fill="#fff" stroke="#2b2b2b" stroke-width="1.30" transform="rotate(10.0 341.6 312.6)"/>
<path d="M283.7 282.9L298.0 275.7L310.7 280.7L296.4 287.9Z" fill="#fff" stroke="#666" stroke-width="0.80" stroke-linecap="butt" stroke-linejoin="round"/>
<path d="M285.4 283.3L298.9 276.4" fill="none" stroke="#3a3a3a" stroke-width="1.40" stroke-linecap="butt" stroke-linejoin="round"/>
<path d="M287.9 284.3L301.4 277.4" fill="none" stroke="#3a3a3a" stroke-width="1.40" stroke-linecap="butt" stroke-linejoin="round"/>
<path d="M290.4 285.3L304.0 278.3" fill="none" stroke="#3a3a3a" stroke-width="1.40" stroke-linecap="butt" stroke-linejoin="round"/>
<path d="M293.0 286.2L306.5 279.3" fill="none" stroke="#3a3a3a" stroke-width="1.40" stroke-linecap="butt" stroke-linejoin="round"/>
<path d="M295.5 287.2L309.0 280.3" fill="none" stroke="#3a3a3a" stroke-width="1.40" stroke-linecap="butt" stroke-linejoin="round"/>
<path d="M283.7 282.9L296.4 287.9L300.0 292.5L286.0 288.5Z" fill="#fff" stroke="#565656" stroke-width="0.85" stroke-linecap="butt" stroke-linejoin="round"/>
<path d="M299.4 292.0L311.9 285.6L325.6 291.0L313.1 297.4Z" fill="#fff" stroke="#666" stroke-width="0.80" stroke-linecap="butt" stroke-linejoin="round"/>
<path d="M301.1 292.3L312.9 286.3" fill="none" stroke="#3a3a3a" stroke-width="1.40" stroke-linecap="butt" stroke-linejoin="round"/>
<path d="M303.9 293.4L315.6 287.4" fill="none" stroke="#3a3a3a" stroke-width="1.40" stroke-linecap="butt" stroke-linejoin="round"/>
<path d="M306.6 294.5L318.4 288.5" fill="none" stroke="#3a3a3a" stroke-width="1.40" stroke-linecap="butt" stroke-linejoin="round"/>
<path d="M309.4 295.6L321.1 289.6" fill="none" stroke="#3a3a3a" stroke-width="1.40" stroke-linecap="butt" stroke-linejoin="round"/>
<path d="M312.1 296.7L323.9 290.7" fill="none" stroke="#3a3a3a" stroke-width="1.40" stroke-linecap="butt" stroke-linejoin="round"/>
<path d="M317.6 296.4L329.4 290.4L342.4 295.6L330.6 301.6Z" fill="#fff" stroke="#666" stroke-width="0.80" stroke-linecap="butt" stroke-linejoin="round"/>
<path d="M319.3 296.8L330.3 291.1" fill="none" stroke="#3a3a3a" stroke-width="1.40" stroke-linecap="butt" stroke-linejoin="round"/>
<path d="M321.9 297.8L332.9 292.2" fill="none" stroke="#3a3a3a" stroke-width="1.40" stroke-linecap="butt" stroke-linejoin="round"/>
<path d="M324.5 298.8L335.5 293.2" fill="none" stroke="#3a3a3a" stroke-width="1.40" stroke-linecap="butt" stroke-linejoin="round"/>
<path d="M327.1 299.8L338.1 294.2" fill="none" stroke="#3a3a3a" stroke-width="1.40" stroke-linecap="butt" stroke-linejoin="round"/>
<path d="M329.7 300.9L340.7 295.2" fill="none" stroke="#3a3a3a" stroke-width="1.40" stroke-linecap="butt" stroke-linejoin="round"/>
<path d="M333.2 301.9L345.0 295.9L358.8 301.3L347.0 307.3Z" fill="#fff" stroke="#666" stroke-width="0.80" stroke-linecap="butt" stroke-linejoin="round"/>
<path d="M335.0 302.2L346.0 296.6" fill="none" stroke="#3a3a3a" stroke-width="1.40" stroke-linecap="butt" stroke-linejoin="round"/>
<path d="M337.7 303.3L348.8 297.7" fill="none" stroke="#3a3a3a" stroke-width="1.40" stroke-linecap="butt" stroke-linejoin="round"/>
<path d="M340.5 304.4L351.5 298.8" fill="none" stroke="#3a3a3a" stroke-width="1.40" stroke-linecap="butt" stroke-linejoin="round"/>
<path d="M343.2 305.5L354.3 299.9" fill="none" stroke="#3a3a3a" stroke-width="1.40" stroke-linecap="butt" stroke-linejoin="round"/>
<path d="M346.0 306.6L357.0 301.0" fill="none" stroke="#3a3a3a" stroke-width="1.40" stroke-linecap="butt" stroke-linejoin="round"/>
<path d="M317.6 296.4L330.6 301.6L328.5 302.7L315.5 297.5Z" fill="#ddd" stroke="#565656" stroke-width="0.85" stroke-linecap="butt" stroke-linejoin="round"/>
<path d="M333.2 301.9L347.0 307.3L344.9 308.4L331.1 303.0Z" fill="#ddd" stroke="#565656" stroke-width="0.85" stroke-linecap="butt" stroke-linejoin="round"/>
<path d="M299.4 292.0L313.1 297.4" fill="none" stroke="#333" stroke-width="1.50" stroke-linecap="butt" stroke-linejoin="round"/>
<path d="M317.6 296.4L330.6 301.6" fill="none" stroke="#444" stroke-width="1.30" stroke-linecap="butt" stroke-linejoin="round"/>
<path d="M333.2 301.9L347.0 307.3" fill="none" stroke="#444" stroke-width="1.30" stroke-linecap="butt" stroke-linejoin="round"/>
<path d="M283.7 282.9L296.4 287.9" fill="none" stroke="#444" stroke-width="1.20" stroke-linecap="butt" stroke-linejoin="round"/>
<path d="M293.4 297.0L298.0 294.4L314.0 301.6L316.4 309.4L311.0 312.6L295.0 305.0Z" fill="#fff" stroke="#3a3a3a" stroke-width="1.00" stroke-linecap="butt" stroke-linejoin="round"/>
<path d="M296.6 299.4L300.0 297.9L311.0 302.9L311.6 307.6L308.6 308.9L297.6 303.9Z" fill="#e4e4e4" stroke="#444" stroke-width="0.80" stroke-linecap="butt" stroke-linejoin="round"/>
<path d="M299.6 301.2L309.0 305.4" fill="none" stroke="#555" stroke-width="1.10" stroke-linecap="butt" stroke-linejoin="round"/>
<path d="M301.0 303.6L307.0 306.3" fill="none" stroke="#777" stroke-width="0.70" stroke-linecap="butt" stroke-linejoin="round"/>
<path d="M294.0 296.2L303.5 291.9L316.0 297.8" fill="none" stroke="#333" stroke-width="1.50" stroke-linecap="butt" stroke-linejoin="round"/>
<path d="M312.4 303.0L316.4 299.4L318.6 305.0L316.0 309.6Z" fill="#444" stroke="#2b2b2b" stroke-width="0.50" stroke-linecap="butt" stroke-linejoin="round"/>
<path d="M311.0 305.5L316.5 315.0" fill="none" stroke="#2b2b2b" stroke-width="1.50" stroke-linecap="butt" stroke-linejoin="round"/>
<path d="M315.5 306.0L311.6 313.6" fill="none" stroke="#2b2b2b" stroke-width="1.30" stroke-linecap="butt" stroke-linejoin="round"/>
<path d="M316.0 308.8L326.5 305.3" fill="none" stroke="#565656" stroke-width="0.80" stroke-linecap="butt" stroke-linejoin="round"/>
<path d="M281.2 282.6L283.4 280.4L287.0 284.6L294.0 285.6L295.8 290.0L292.4 294.4L293.4 304.0L293.4 324.0L282.6 322.0Z" fill="#fff" stroke="#565656" stroke-width="0.85" stroke-linecap="butt" stroke-linejoin="round"/>
<ellipse cx="288.7" cy="289.2" rx="2.2" ry="2.4" fill="#fff" stroke="#2b2b2b" stroke-width="1.40" transform="rotate(0.0 288.7 289.2)"/>
<ellipse cx="289.1" cy="289.6" rx="0.9" ry="1.0" fill="#888" stroke="none" stroke-width="0.00" transform="rotate(0.0 289.1 289.6)"/>
<path d="M357.5 303.0C358.3 303.3 361.3 304.0 362.5 305.0C363.7 306.0 364.6 307.7 364.5 309.0C364.4 310.3 362.9 311.7 362.0 313.0C361.1 314.3 359.2 315.5 359.0 317.0C358.8 318.5 360.2 321.2 360.5 322.0" fill="none" stroke="#565656" stroke-width="1.00" stroke-linecap="butt" stroke-linejoin="round"/>
<path d="M354.5 309.0C355.1 308.7 357.0 306.9 358.0 307.0C359.0 307.1 360.4 308.5 360.5 309.5C360.6 310.5 358.8 312.4 358.5 313.0" fill="none" stroke="#565656" stroke-width="0.90" stroke-linecap="butt" stroke-linejoin="round"/>
<path d="M253.0 325.2L286.0 339.8" fill="none" stroke="#565656" stroke-width="11.80" stroke-linecap="butt" stroke-linejoin="round"/>
<path d="M253.0 325.2L286.0 339.8" fill="none" stroke="#fff" stroke-width="10.10" stroke-linecap="butt" stroke-linejoin="round"/>
<ellipse cx="285.6" cy="339.8" rx="2.8" ry="5.8" fill="#fff" stroke="#565656" stroke-width="0.85" transform="rotate(22.0 285.6 339.8)"/>
<path d="M250.8 320.6L254.0 319.4L256.6 321.0L256.6 332.6L253.4 333.6L250.8 331.0Z" fill="#fff" stroke="#565656" stroke-width="0.85" stroke-linecap="butt" stroke-linejoin="round"/>
<path d="M253.4 320.2L266.6 325.6" fill="none" stroke="#3a3a3a" stroke-width="3.20" stroke-linecap="butt" stroke-linejoin="round"/>
<path d="M255.5 323.8L265.0 327.8" fill="none" stroke="#777" stroke-width="1.00" stroke-linecap="butt" stroke-linejoin="round"/>
<path d="M258.0 320.6L262.0 322.2" fill="none" stroke="#bbb" stroke-width="1.00" stroke-linecap="butt" stroke-linejoin="round"/>
<path d="M266.4 327.2 Q263.4 333.5 266 341.4 L269.2 342.6 Q266.6 334.5 269.6 328.4Z" fill="#fff" stroke="#2b2b2b" stroke-width="1.3"/>
<path d="M268.0 328.4C267.8 329.5 266.5 332.8 266.6 335.0C266.7 337.2 268.1 340.7 268.4 341.8" fill="none" stroke="#565656" stroke-width="0.70" stroke-linecap="butt" stroke-linejoin="round"/>
<path d="M252.6 312.4L289.0 327.6" fill="none" stroke="#565656" stroke-width="11.60" stroke-linecap="butt" stroke-linejoin="round"/>
<path d="M252.6 312.4L289.0 327.6" fill="none" stroke="#fff" stroke-width="9.90" stroke-linecap="butt" stroke-linejoin="round"/>
<path d="M250.7 305.0L254.4 302.0L257.4 303.4L257.4 318.4L253.6 319.6L250.7 317.4Z" fill="#fff" stroke="#565656" stroke-width="0.85" stroke-linecap="butt" stroke-linejoin="round"/>
<path d="M254.0 302.4L267.8 308.2" fill="none" stroke="#3a3a3a" stroke-width="3.60" stroke-linecap="butt" stroke-linejoin="round"/>
<path d="M256.0 306.6L266.0 310.8" fill="none" stroke="#777" stroke-width="1.00" stroke-linecap="butt" stroke-linejoin="round"/>
<path d="M259.4 302.8L263.6 304.6" fill="none" stroke="#bbb" stroke-width="1.10" stroke-linecap="butt" stroke-linejoin="round"/>
<path d="M267.8 310.4 Q264.8 316.5 267 323.6 L270.2 324.8 Q268 317.5 271 311.6Z" fill="#fff" stroke="#2b2b2b" stroke-width="1.3"/>
<path d="M269.4 311.6C269.2 312.6 268.0 315.5 268.0 317.6C268.0 319.7 269.2 322.9 269.4 324.0" fill="none" stroke="#565656" stroke-width="0.70" stroke-linecap="butt" stroke-linejoin="round"/>
<path d="M268.6 311.0L279.4 310.6L281.0 312.0L271.0 314.6Z" fill="#666" stroke="#2b2b2b" stroke-width="1.00" stroke-linecap="butt" stroke-linejoin="round"/>
<rect x="287.7" y="309" width="11.4" height="47" fill="#fff" stroke="none"/>
<path d="M287.7 309.0L287.7 356.0" fill="none" stroke="#565656" stroke-width="0.90" stroke-linecap="butt" stroke-linejoin="round"/>
<path d="M299.1 309.0L299.1 356.0" fill="none" stroke="#565656" stroke-width="0.90" stroke-linecap="butt" stroke-linejoin="round"/>
<ellipse cx="293.4" cy="311.4" rx="5.6" ry="2.0" fill="#fff" stroke="#565656" stroke-width="0.85" transform="rotate(0.0 293.4 311.4)"/>
<path d="M287.9 310.4 L287.9 306.4 A5.5 2.2 0 0 1 298.9 306.4 L298.9 310.4 A5.5 2 0 0 0 287.9 310.4Z" fill="#fff" stroke="#565656" stroke-width=".9"/>
<path d="M288.0 305.4L299.0 305.4" fill="none" stroke="#444" stroke-width="1.80" stroke-linecap="butt" stroke-linejoin="round"/>
<path d="M288.4 308.4L298.6 308.4" fill="none" stroke="#555" stroke-width="1.40" stroke-linecap="butt" stroke-linejoin="round"/>
<path d="M286.4 336.6L300.4 336.6L300.4 340.0L286.4 340.0Z" fill="#fff" stroke="#565656" stroke-width="0.90" stroke-linecap="butt" stroke-linejoin="round"/>
<path d="M289.2 332.0L289.2 347.0" fill="none" stroke="#2b2b2b" stroke-width="1.70" stroke-linecap="butt" stroke-linejoin="round"/>
<path d="M287.7 355.4 A5.7 2.2 0 0 0 299.1 355.4" fill="#fff" stroke="#2b2b2b" stroke-width="1.8"/>
<path d="M299.8 313.0C299.9 316.7 300.4 327.7 300.6 335.0C300.8 342.3 300.9 353.3 301.0 357.0" fill="none" stroke="#565656" stroke-width="0.80" stroke-linecap="butt" stroke-linejoin="round"/>
<path d="M301.6 314.0C301.8 317.5 302.4 328.7 302.6 335.0C302.8 341.3 302.8 349.2 302.8 352.0" fill="none" stroke="#565656" stroke-width="0.80" stroke-linecap="butt" stroke-linejoin="round"/>
<rect x="308.5" y="318.9" width="4.0" height="9.4" rx="1.2" fill="#fff" stroke="#565656" stroke-width="0.85" transform="rotate(0.0 310.5 323.6)"/>
<path d="M310.5 328.4L310.8 334.0" fill="none" stroke="#565656" stroke-width="0.80" stroke-linecap="butt" stroke-linejoin="round"/>
<path d="M304.0 316.4L310.4 318.6" fill="none" stroke="#565656" stroke-width="0.80" stroke-linecap="butt" stroke-linejoin="round"/>
<path d="M294.6 357.0C294.8 357.9 295.2 360.5 295.6 362.5C296.0 364.5 296.3 366.9 297.0 369.0C297.7 371.1 298.6 373.4 299.8 375.2C301.0 377.0 303.1 378.2 304.4 380.0C305.7 381.8 306.8 383.9 307.6 386.0C308.4 388.1 308.9 390.3 309.4 392.5C309.9 394.7 310.2 396.5 310.4 399.0C310.6 401.5 310.7 406.2 310.8 407.6" fill="none" stroke="#565656" stroke-width="4.00" stroke-linecap="butt" stroke-linejoin="round"/>
<path d="M294.6 357.0C294.8 357.9 295.2 360.5 295.6 362.5C296.0 364.5 296.3 366.9 297.0 369.0C297.7 371.1 298.6 373.4 299.8 375.2C301.0 377.0 303.1 378.2 304.4 380.0C305.7 381.8 306.8 383.9 307.6 386.0C308.4 388.1 308.9 390.3 309.4 392.5C309.9 394.7 310.2 396.5 310.4 399.0C310.6 401.5 310.7 406.2 310.8 407.6" fill="none" stroke="#fff" stroke-width="2.30" stroke-linecap="butt" stroke-linejoin="round"/>
<rect x="307.8" y="407.5" width="5.6" height="8.0" rx="1.0" fill="#fff" stroke="#565656" stroke-width="0.85" transform="rotate(0.0 310.6 411.5)"/>
<path d="M308.0 409.4L313.2 409.4" fill="none" stroke="#444" stroke-width="0.90" stroke-linecap="butt" stroke-linejoin="round"/>
<path d="M308.0 412.6L313.2 412.6" fill="none" stroke="#444" stroke-width="0.90" stroke-linecap="butt" stroke-linejoin="round"/>
<rect x="305.7" y="415.6" width="9.4" height="6.0" rx="1.0" fill="#8a8a8a" stroke="#2b2b2b" stroke-width="1.30" transform="rotate(0.0 310.4 418.6)"/>
<path d="M306.2 417.4L314.6 417.4" fill="none" stroke="#eee" stroke-width="0.90" stroke-linecap="butt" stroke-linejoin="round"/>
<path d="M306.4 420.0L314.4 420.0" fill="none" stroke="#333" stroke-width="0.90" stroke-linecap="butt" stroke-linejoin="round"/>
<rect x="307.2" y="422.1" width="6.4" height="5.4" rx="1.0" fill="#ddd" stroke="#444" stroke-width="1.00" transform="rotate(0.0 310.4 424.8)"/>
<path d="M307.4 424.0L313.4 424.0" fill="none" stroke="#444" stroke-width="0.90" stroke-linecap="butt" stroke-linejoin="round"/>
<path d="M307.4 426.2L313.4 426.2" fill="none" stroke="#444" stroke-width="0.90" stroke-linecap="butt" stroke-linejoin="round"/>
<rect x="308.4" y="427.3" width="4.0" height="2.6" rx="0.8" fill="#555" stroke="#2b2b2b" stroke-width="0.60" transform="rotate(0.0 310.4 428.6)"/>
<path d="M252.3 372.0C253.9 371.9 258.4 371.6 262.0 371.4C265.6 371.2 270.8 370.8 273.6 370.8C276.4 370.8 277.4 371.3 279.0 371.4C280.6 371.5 282.1 371.6 283.4 371.2C284.7 370.8 286.0 369.9 287.0 369.0C288.0 368.1 288.8 366.8 289.6 365.5C290.4 364.2 291.1 362.4 291.6 361.0C292.1 359.6 292.4 357.5 292.6 356.8" fill="none" stroke="#565656" stroke-width="4.00" stroke-linecap="butt" stroke-linejoin="round"/>
<path d="M252.3 372.0C253.9 371.9 258.4 371.6 262.0 371.4C265.6 371.2 270.8 370.8 273.6 370.8C276.4 370.8 277.4 371.3 279.0 371.4C280.6 371.5 282.1 371.6 283.4 371.2C284.7 370.8 286.0 369.9 287.0 369.0C288.0 368.1 288.8 366.8 289.6 365.5C290.4 364.2 291.1 362.4 291.6 361.0C292.1 359.6 292.4 357.5 292.6 356.8" fill="none" stroke="#fff" stroke-width="2.30" stroke-linecap="butt" stroke-linejoin="round"/>
<rect x="238.9" y="371.5" width="12.6" height="9.0" rx="3.0" fill="#fff" stroke="#565656" stroke-width="0.85" transform="rotate(0.0 245.2 376.0)"/>
<rect x="239.7" y="367.0" width="11.0" height="6.4" rx="2.0" fill="#fff" stroke="#565656" stroke-width="0.85" transform="rotate(0.0 245.2 370.2)"/>
<path d="M249.5 368.0L252.5 368.0L252.5 370.6L249.5 370.6Z" fill="#fff" stroke="#565656" stroke-width="0.90" stroke-linecap="butt" stroke-linejoin="round"/>
<path d="M239.5 373.2L251.0 373.2" fill="none" stroke="#565656" stroke-width="0.80" stroke-linecap="butt" stroke-linejoin="round"/>
<g transform="rotate(28 280 364.8)"><rect x="274.6" y="361.2" width="10.8" height="7.2" rx="1.4" fill="#fff" stroke="#565656" stroke-width=".9"/><rect x="275" y="360.8" width="6.6" height="8" rx="1" fill="#444"/><line x1="277" y1="361" x2="277" y2="368.6" stroke="#bbb" stroke-width=".6"/><line x1="279.2" y1="361" x2="279.2" y2="368.6" stroke="#bbb" stroke-width=".6"/></g>
<path d="M399.0 334.6C400.0 334.9 402.7 335.8 405.0 336.4C407.3 337.0 410.0 337.6 412.7 338.5C415.4 339.4 418.1 340.3 421.0 341.5C423.9 342.7 427.5 344.2 430.3 345.5C433.1 346.8 435.5 348.1 438.0 349.5C440.5 350.9 443.0 352.6 445.3 354.0C447.6 355.4 449.9 356.9 452.0 358.0C454.1 359.1 456.0 360.2 458.0 360.8C460.0 361.4 462.1 361.9 464.0 361.8C465.9 361.7 467.7 361.1 469.2 360.4C470.7 359.7 471.9 358.7 473.0 357.7C474.1 356.7 475.5 354.9 476.0 354.4" fill="none" stroke="#565656" stroke-width="5.60" stroke-linecap="butt" stroke-linejoin="round"/>
<path d="M399.0 334.6C400.0 334.9 402.7 335.8 405.0 336.4C407.3 337.0 410.0 337.6 412.7 338.5C415.4 339.4 418.1 340.3 421.0 341.5C423.9 342.7 427.5 344.2 430.3 345.5C433.1 346.8 435.5 348.1 438.0 349.5C440.5 350.9 443.0 352.6 445.3 354.0C447.6 355.4 449.9 356.9 452.0 358.0C454.1 359.1 456.0 360.2 458.0 360.8C460.0 361.4 462.1 361.9 464.0 361.8C465.9 361.7 467.7 361.1 469.2 360.4C470.7 359.7 471.9 358.7 473.0 357.7C474.1 356.7 475.5 354.9 476.0 354.4" fill="none" stroke="#fff" stroke-width="3.90" stroke-linecap="butt" stroke-linejoin="round"/>
<path d="M478.8 351.4C480.3 350.1 484.7 346.0 487.6 343.6C490.5 341.2 492.9 339.1 496.0 336.8C499.1 334.5 504.7 331.1 506.4 330.0" fill="none" stroke="#565656" stroke-width="5.60" stroke-linecap="butt" stroke-linejoin="round"/>
<path d="M478.8 351.4C480.3 350.1 484.7 346.0 487.6 343.6C490.5 341.2 492.9 339.1 496.0 336.8C499.1 334.5 504.7 331.1 506.4 330.0" fill="none" stroke="#fff" stroke-width="3.90" stroke-linecap="butt" stroke-linejoin="round"/>
<path d="M554.5 281.8C554.9 281.9 556.2 282.1 556.8 282.6C557.4 283.1 557.8 283.6 558.0 285.0C558.2 286.4 558.2 289.0 558.3 291.0C558.3 293.0 558.6 295.4 558.3 297.0C558.0 298.6 557.8 299.4 556.6 300.6C555.4 301.8 552.9 303.0 551.0 304.2C549.1 305.4 547.3 306.3 545.0 307.6C542.7 308.9 538.3 311.1 537.0 311.8" fill="none" stroke="#565656" stroke-width="2.60" stroke-linecap="butt" stroke-linejoin="round"/>
<path d="M554.5 281.8C554.9 281.9 556.2 282.1 556.8 282.6C557.4 283.1 557.8 283.6 558.0 285.0C558.2 286.4 558.2 289.0 558.3 291.0C558.3 293.0 558.6 295.4 558.3 297.0C558.0 298.6 557.8 299.4 556.6 300.6C555.4 301.8 552.9 303.0 551.0 304.2C549.1 305.4 547.3 306.3 545.0 307.6C542.7 308.9 538.3 311.1 537.0 311.8" fill="none" stroke="#fff" stroke-width="1.00" stroke-linecap="butt" stroke-linejoin="round"/>
<path d="M551.5 297.0C550.4 297.6 547.2 299.3 545.0 300.6C542.8 301.9 540.3 303.4 538.0 304.8C535.7 306.2 532.2 308.1 531.0 308.8" fill="none" stroke="#565656" stroke-width="3.00" stroke-linecap="butt" stroke-linejoin="round"/>
<path d="M551.5 297.0C550.4 297.6 547.2 299.3 545.0 300.6C542.8 301.9 540.3 303.4 538.0 304.8C535.7 306.2 532.2 308.1 531.0 308.8" fill="none" stroke="#fff" stroke-width="1.40" stroke-linecap="butt" stroke-linejoin="round"/>
<path d="M531.5 310.6C530.6 311.2 528.4 312.6 526.3 313.9C524.2 315.2 521.4 316.8 519.0 318.3C516.6 319.8 513.2 322.2 512.0 323.0" fill="none" stroke="#565656" stroke-width="5.00" stroke-linecap="butt" stroke-linejoin="round"/>
<path d="M531.5 310.6C530.6 311.2 528.4 312.6 526.3 313.9C524.2 315.2 521.4 316.8 519.0 318.3C516.6 319.8 513.2 322.2 512.0 323.0" fill="none" stroke="#fff" stroke-width="3.30" stroke-linecap="butt" stroke-linejoin="round"/>
<path d="M527.4 311.8L537.2 305.8L539.4 309.0L529.4 315.0Z" fill="#fff" stroke="#2b2b2b" stroke-width="1.10" stroke-linecap="butt" stroke-linejoin="round"/>
<path d="M535.6 305.2L538.6 311.6" fill="none" stroke="#2b2b2b" stroke-width="1.60" stroke-linecap="butt" stroke-linejoin="round"/>
<path d="M529.2 309.6L533.0 308.2" fill="none" stroke="#2b2b2b" stroke-width="1.60" stroke-linecap="butt" stroke-linejoin="round"/>
<path d="M528.6 314.0L531.4 316.2" fill="none" stroke="#2b2b2b" stroke-width="1.40" stroke-linecap="butt" stroke-linejoin="round"/>
<rect x="543.6" y="279.2" width="11.6" height="7.2" rx="1.4" fill="#8a8a8a" stroke="#444" stroke-width="1.00" transform="rotate(10.0 549.4 282.8)"/>
<rect x="545.0" y="279.9" width="3.6" height="3.0" rx="0.5" fill="#eee" stroke="#2b2b2b" stroke-width="0.60" transform="rotate(10.0 546.8 281.4)"/>
<path d="M552.2 279.6L553.0 286.4" fill="none" stroke="#2b2b2b" stroke-width="1.20" stroke-linecap="butt" stroke-linejoin="round"/>
<path d="M544.0 284.8L550.0 287.0" fill="none" stroke="#2b2b2b" stroke-width="1.20" stroke-linecap="butt" stroke-linejoin="round"/>
<ellipse cx="549.6" cy="295.6" rx="3.2" ry="3.1" fill="#777" stroke="#444" stroke-width="1.00" transform="rotate(0.0 549.6 295.6)"/>
<ellipse cx="548.8" cy="295.2" rx="1.2" ry="1.3" fill="#bbb" stroke="none" stroke-width="0.00" transform="rotate(0.0 548.8 295.2)"/>
<path d="M513.5 330.8C514.1 331.3 515.8 332.7 517.0 334.0C518.2 335.3 519.4 336.7 520.8 338.5C522.2 340.3 523.8 342.6 525.4 345.0C527.0 347.4 529.0 350.1 530.6 352.7C532.2 355.3 533.6 358.0 535.2 360.5C536.8 363.0 538.5 365.7 540.3 367.8C542.1 369.9 543.9 371.5 546.0 373.2C548.1 374.9 550.7 376.4 552.8 377.8C554.9 379.2 556.7 380.3 558.5 381.6C560.3 382.9 561.8 384.0 563.5 385.6C565.2 387.2 566.9 389.0 568.5 391.0C570.1 393.0 571.6 395.5 573.0 397.8C574.4 400.1 575.8 402.5 577.0 405.0C578.2 407.5 579.3 410.1 580.4 412.6C581.5 415.1 582.6 417.5 583.4 420.0C584.2 422.5 584.8 425.4 585.2 427.7C585.6 430.0 585.6 431.9 585.6 434.0C585.6 436.1 585.4 438.2 585.0 440.5C584.6 442.8 584.0 445.6 583.2 448.0C582.4 450.4 581.4 453.0 580.4 455.0C579.4 457.0 578.4 458.7 577.2 460.2C576.0 461.7 574.5 463.1 573.0 464.2C571.5 465.3 569.9 466.2 568.2 466.8C566.5 467.4 564.8 467.6 563.0 467.5C561.2 467.4 559.2 466.9 557.5 466.4C555.8 465.8 554.7 465.4 552.8 464.2C550.9 463.0 548.1 460.7 546.0 459.2C543.9 457.7 542.8 456.8 540.3 455.0C537.8 453.2 533.9 450.7 531.0 448.6C528.1 446.6 525.5 444.7 522.7 442.7C519.9 440.7 517.0 438.6 514.0 436.5C511.1 434.4 508.0 431.9 505.0 430.0C502.0 428.1 498.6 427.1 496.0 425.4C493.4 423.7 491.2 422.1 489.5 420.0C487.8 417.9 486.6 415.5 485.5 413.0C484.4 410.5 483.4 407.8 482.6 405.0C481.8 402.2 481.1 398.9 480.5 396.0C479.9 393.1 479.3 390.1 479.2 387.5C479.1 384.9 479.2 382.4 479.6 380.5C480.0 378.6 480.7 377.2 481.6 375.8C482.5 374.4 483.7 373.0 485.0 372.0C486.3 371.0 488.8 370.3 489.5 370.0" fill="none" stroke="#565656" stroke-width="4.40" stroke-linecap="butt" stroke-linejoin="round"/>
<path d="M513.5 330.8C514.1 331.3 515.8 332.7 517.0 334.0C518.2 335.3 519.4 336.7 520.8 338.5C522.2 340.3 523.8 342.6 525.4 345.0C527.0 347.4 529.0 350.1 530.6 352.7C532.2 355.3 533.6 358.0 535.2 360.5C536.8 363.0 538.5 365.7 540.3 367.8C542.1 369.9 543.9 371.5 546.0 373.2C548.1 374.9 550.7 376.4 552.8 377.8C554.9 379.2 556.7 380.3 558.5 381.6C560.3 382.9 561.8 384.0 563.5 385.6C565.2 387.2 566.9 389.0 568.5 391.0C570.1 393.0 571.6 395.5 573.0 397.8C574.4 400.1 575.8 402.5 577.0 405.0C578.2 407.5 579.3 410.1 580.4 412.6C581.5 415.1 582.6 417.5 583.4 420.0C584.2 422.5 584.8 425.4 585.2 427.7C585.6 430.0 585.6 431.9 585.6 434.0C585.6 436.1 585.4 438.2 585.0 440.5C584.6 442.8 584.0 445.6 583.2 448.0C582.4 450.4 581.4 453.0 580.4 455.0C579.4 457.0 578.4 458.7 577.2 460.2C576.0 461.7 574.5 463.1 573.0 464.2C571.5 465.3 569.9 466.2 568.2 466.8C566.5 467.4 564.8 467.6 563.0 467.5C561.2 467.4 559.2 466.9 557.5 466.4C555.8 465.8 554.7 465.4 552.8 464.2C550.9 463.0 548.1 460.7 546.0 459.2C543.9 457.7 542.8 456.8 540.3 455.0C537.8 453.2 533.9 450.7 531.0 448.6C528.1 446.6 525.5 444.7 522.7 442.7C519.9 440.7 517.0 438.6 514.0 436.5C511.1 434.4 508.0 431.9 505.0 430.0C502.0 428.1 498.6 427.1 496.0 425.4C493.4 423.7 491.2 422.1 489.5 420.0C487.8 417.9 486.6 415.5 485.5 413.0C484.4 410.5 483.4 407.8 482.6 405.0C481.8 402.2 481.1 398.9 480.5 396.0C479.9 393.1 479.3 390.1 479.2 387.5C479.1 384.9 479.2 382.4 479.6 380.5C480.0 378.6 480.7 377.2 481.6 375.8C482.5 374.4 483.7 373.0 485.0 372.0C486.3 371.0 488.8 370.3 489.5 370.0" fill="none" stroke="#fff" stroke-width="2.70" stroke-linecap="butt" stroke-linejoin="round"/>
<path d="M476.6 358.6C477.2 359.5 478.7 362.3 480.0 364.0C481.3 365.7 482.9 367.5 484.5 369.0C486.1 370.5 488.1 371.8 489.5 372.8C490.9 373.8 492.4 374.6 493.0 375.0" fill="none" stroke="#565656" stroke-width="3.80" stroke-linecap="butt" stroke-linejoin="round"/>
<path d="M476.6 358.6C477.2 359.5 478.7 362.3 480.0 364.0C481.3 365.7 482.9 367.5 484.5 369.0C486.1 370.5 488.1 371.8 489.5 372.8C490.9 373.8 492.4 374.6 493.0 375.0" fill="none" stroke="#fff" stroke-width="2.10" stroke-linecap="butt" stroke-linejoin="round"/>
<path d="M503.5 329.2L510.5 323.6L514.0 327.6L507.0 333.4Z" fill="#777" stroke="#2b2b2b" stroke-width="1.40" stroke-linecap="butt" stroke-linejoin="round"/>
<path d="M505.6 327.4L509.2 331.6" fill="none" stroke="#2b2b2b" stroke-width="1.30" stroke-linecap="butt" stroke-linejoin="round"/>
<path d="M508.6 325.0L512.2 329.4" fill="none" stroke="#2b2b2b" stroke-width="1.30" stroke-linecap="butt" stroke-linejoin="round"/>
<path d="M505.0 331.5L508.4 335.2L511.6 333.4" fill="none" stroke="#2b2b2b" stroke-width="1.20" stroke-linecap="butt" stroke-linejoin="round"/>
<path d="M472.2 352.6L479.2 347.0L482.8 351.0L475.8 356.8Z" fill="#777" stroke="#2b2b2b" stroke-width="1.40" stroke-linecap="butt" stroke-linejoin="round"/>
<path d="M474.4 350.8L478.0 355.0" fill="none" stroke="#2b2b2b" stroke-width="1.30" stroke-linecap="butt" stroke-linejoin="round"/>
<path d="M477.4 348.4L481.0 352.8" fill="none" stroke="#2b2b2b" stroke-width="1.30" stroke-linecap="butt" stroke-linejoin="round"/>
<path d="M473.8 355.0L477.2 358.8L480.4 357.0" fill="none" stroke="#2b2b2b" stroke-width="1.20" stroke-linecap="butt" stroke-linejoin="round"/>
<ellipse cx="495.2" cy="376.4" rx="3.4" ry="3.6" fill="#777" stroke="#2b2b2b" stroke-width="1.40" transform="rotate(0.0 495.2 376.4)"/>
<ellipse cx="495.2" cy="376.4" rx="1.2" ry="1.3" fill="#ddd" stroke="none" stroke-width="0.00" transform="rotate(0.0 495.2 376.4)"/>
<path d="M487.7 368.9L506.4 368.9L509.4 367.4L511.6 369.2L513.4 366.8" fill="none" stroke="#565656" stroke-width="0.90" stroke-linecap="butt" stroke-linejoin="round"/>
<path d="M489.0 370.8L505.0 370.8L509.0 369.8" fill="none" stroke="#777" stroke-width="0.80" stroke-linecap="butt" stroke-linejoin="round"/>
<ellipse cx="513.4" cy="366.8" rx="1.4" ry="1.3" fill="#333" stroke="none" stroke-width="0.00" transform="rotate(0.0 513.4 366.8)"/>
<ellipse cx="509.6" cy="367.6" rx="1.0" ry="1.0" fill="#555" stroke="none" stroke-width="0.00" transform="rotate(0.0 509.6 367.6)"/>
<path d="M504.2 377.6C504.8 377.6 506.7 377.9 507.6 377.6C508.5 377.3 508.7 376.3 509.4 375.6C510.1 374.9 511.2 374.1 511.6 373.4C512.0 372.7 511.9 371.6 512.0 371.2" fill="none" stroke="#444" stroke-width="1.30" stroke-linecap="butt" stroke-linejoin="round"/>
<path d="M504.2 379.0C504.9 379.0 507.3 379.4 508.4 379.0C509.5 378.6 509.9 377.6 510.6 376.8C511.3 376.0 512.4 374.8 512.8 374.4" fill="none" stroke="#666" stroke-width="0.80" stroke-linecap="butt" stroke-linejoin="round"/>
<ellipse cx="504.6" cy="378.2" rx="1.2" ry="1.2" fill="#333" stroke="none" stroke-width="0.00" transform="rotate(0.0 504.6 378.2)"/>
<ellipse cx="510.2" cy="374.6" rx="1.3" ry="1.5" fill="#444" stroke="none" stroke-width="0.00" transform="rotate(0.0 510.2 374.6)"/>
<path d="M355.0 315.4L379.5 322.6" fill="none" stroke="#565656" stroke-width="9.60" stroke-linecap="butt" stroke-linejoin="round"/>
<path d="M355.0 315.4L379.5 322.6" fill="none" stroke="#fff" stroke-width="7.90" stroke-linecap="butt" stroke-linejoin="round"/>
<ellipse cx="355.4" cy="315.6" rx="2.4" ry="4.8" fill="#fff" stroke="#565656" stroke-width="0.85" transform="rotate(17.0 355.4 315.6)"/>
<path d="M366.5 313.8L364.8 323.0" fill="none" stroke="#565656" stroke-width="0.90" stroke-linecap="butt" stroke-linejoin="round"/>
<path d="M369.4 314.8L367.6 323.8" fill="none" stroke="#565656" stroke-width="0.90" stroke-linecap="butt" stroke-linejoin="round"/>
<path d="M353.0 305.6C353.6 306.2 356.2 307.6 356.8 309.0C357.4 310.4 357.2 312.2 356.6 314.0C356.0 315.8 353.6 317.7 353.2 319.6C352.8 321.5 354.2 324.6 354.4 325.6" fill="none" stroke="#444" stroke-width="1.30" stroke-linecap="butt" stroke-linejoin="round"/>
<path d="M382.5 325.2L397.0 330.6" fill="none" stroke="#565656" stroke-width="9.60" stroke-linecap="butt" stroke-linejoin="round"/>
<path d="M382.5 325.2L397.0 330.6" fill="none" stroke="#fff" stroke-width="7.90" stroke-linecap="butt" stroke-linejoin="round"/>
<ellipse cx="382.8" cy="325.4" rx="2.2" ry="4.8" fill="#fff" stroke="#565656" stroke-width="0.85" transform="rotate(20.0 382.8 325.4)"/>
<path d="M380.4 318.6L379.6 331.6" fill="none" stroke="#565656" stroke-width="1.00" stroke-linecap="butt" stroke-linejoin="round"/>
<path d="M390.0 329.4L399.4 333.0" fill="none" stroke="#2b2b2b" stroke-width="1.60" stroke-linecap="butt" stroke-linejoin="round"/>
<path d="M392.4 334.2L399.6 337.0" fill="none" stroke="#2b2b2b" stroke-width="1.60" stroke-linecap="butt" stroke-linejoin="round"/>
<path d="M397.4 327.8L399.2 338.6" fill="none" stroke="#2b2b2b" stroke-width="1.40" stroke-linecap="butt" stroke-linejoin="round"/>
<ellipse cx="394.6" cy="332.2" rx="1.3" ry="1.3" fill="#444" stroke="none" stroke-width="0.00" transform="rotate(0.0 394.6 332.2)"/>
<path d="M361.0 305.0C361.8 305.2 364.3 305.8 366.0 306.2C367.7 306.6 369.4 307.0 371.0 307.6C372.6 308.2 374.8 309.3 375.5 309.6" fill="none" stroke="#565656" stroke-width="4.80" stroke-linecap="butt" stroke-linejoin="round"/>
<path d="M361.0 305.0C361.8 305.2 364.3 305.8 366.0 306.2C367.7 306.6 369.4 307.0 371.0 307.6C372.6 308.2 374.8 309.3 375.5 309.6" fill="none" stroke="#fff" stroke-width="3.10" stroke-linecap="butt" stroke-linejoin="round"/>
<g transform="rotate(27 380.4 312.6)"><rect x="374.8" y="307.8" width="11.4" height="9.6" rx="2.6" fill="#2f2f2f" stroke="#2b2b2b" stroke-width=".8"/>
<line x1="377.2" y1="308.6" x2="377.2" y2="316.6" stroke="#9a9a9a" stroke-width=".7"/>
<line x1="379.4" y1="308.6" x2="379.4" y2="316.6" stroke="#9a9a9a" stroke-width=".7"/>
<line x1="381.6" y1="308.6" x2="381.6" y2="316.6" stroke="#9a9a9a" stroke-width=".7"/>
<line x1="383.8" y1="308.6" x2="383.8" y2="316.6" stroke="#9a9a9a" stroke-width=".7"/>
</g>
<path d="M386.4 315.6C387.7 316.1 391.6 318.0 394.0 318.4C396.4 318.8 399.8 318.2 401.0 318.2" fill="none" stroke="#565656" stroke-width="0.80" stroke-linecap="butt" stroke-linejoin="round"/>
<path d="M408.6 301.5C408.1 302.7 406.6 306.1 405.6 308.5C404.6 310.9 403.4 313.7 402.4 316.0C401.4 318.3 400.4 320.6 399.6 322.5C398.8 324.4 397.9 326.8 397.6 327.6" fill="none" stroke="#565656" stroke-width="7.00" stroke-linecap="butt" stroke-linejoin="round"/>
<path d="M408.6 301.5C408.1 302.7 406.6 306.1 405.6 308.5C404.6 310.9 403.4 313.7 402.4 316.0C401.4 318.3 400.4 320.6 399.6 322.5C398.8 324.4 397.9 326.8 397.6 327.6" fill="none" stroke="#fff" stroke-width="5.30" stroke-linecap="butt" stroke-linejoin="round"/>
<path d="M394.0 326.2L401.4 329.0" fill="none" stroke="#565656" stroke-width="0.90" stroke-linecap="butt" stroke-linejoin="round"/>
<path d="M403.6 290.6L407.2 287.4L420.5 286.2L423.5 289.0L423.6 294.0L421.4 297.5L413.0 300.4L408.4 303.4L403.6 301.0Z" fill="#fff" stroke="#565656" stroke-width="0.85" stroke-linecap="butt" stroke-linejoin="round"/>
<path d="M406.6 288.4L420.4 286.4" fill="none" stroke="#444" stroke-width="1.50" stroke-linecap="butt" stroke-linejoin="round"/>
<path d="M404.0 290.6L416.6 289.8L420.5 286.2" fill="none" stroke="#565656" stroke-width="0.80" stroke-linecap="butt" stroke-linejoin="round"/>
<path d="M416.6 289.8C416.4 290.6 416.1 292.8 415.6 294.5C415.1 296.2 413.8 299.1 413.4 300.0" fill="none" stroke="#555" stroke-width="1.30" stroke-linecap="butt" stroke-linejoin="round"/>
<path d="M403.8 296.4L403.8 298.2" fill="none" stroke="#2b2b2b" stroke-width="1.80" stroke-linecap="butt" stroke-linejoin="round"/>
<path d="M403.0 301.0L403.6 305.2" fill="none" stroke="#2b2b2b" stroke-width="2.00" stroke-linecap="butt" stroke-linejoin="round"/>
<ellipse cx="408.6" cy="291.2" rx="1.0" ry="0.8" fill="#444" stroke="none" stroke-width="0.00" transform="rotate(0.0 408.6 291.2)"/>
<ellipse cx="421.8" cy="293.6" rx="2.0" ry="2.4" fill="#fff" stroke="#2b2b2b" stroke-width="1.50" transform="rotate(0.0 421.8 293.6)"/>
<ellipse cx="420.4" cy="289.4" rx="1.6" ry="1.6" fill="#666" stroke="#2b2b2b" stroke-width="0.90" transform="rotate(0.0 420.4 289.4)"/>
<path d="M417.6 295.0L420.6 299.0" fill="none" stroke="#555" stroke-width="1.20" stroke-linecap="butt" stroke-linejoin="round"/>
<path d="M429.5 275.7L432.5 277.3" fill="none" stroke="#555" stroke-width="0.90" stroke-linecap="butt" stroke-linejoin="round"/>
<path d="M428.4 277.3L431.4 278.9" fill="none" stroke="#555" stroke-width="0.90" stroke-linecap="butt" stroke-linejoin="round"/>
<path d="M427.3 278.8L430.3 280.4" fill="none" stroke="#555" stroke-width="0.90" stroke-linecap="butt" stroke-linejoin="round"/>
<path d="M426.2 280.4L429.2 282.0" fill="none" stroke="#555" stroke-width="0.90" stroke-linecap="butt" stroke-linejoin="round"/>
<path d="M425.0 282.0L428.0 283.6" fill="none" stroke="#555" stroke-width="0.90" stroke-linecap="butt" stroke-linejoin="round"/>
<path d="M423.9 283.6L426.9 285.2" fill="none" stroke="#555" stroke-width="0.90" stroke-linecap="butt" stroke-linejoin="round"/>
<path d="M422.8 285.1L425.8 286.7" fill="none" stroke="#555" stroke-width="0.90" stroke-linecap="butt" stroke-linejoin="round"/>
<path d="M421.7 286.7L424.7 288.3" fill="none" stroke="#555" stroke-width="0.90" stroke-linecap="butt" stroke-linejoin="round"/>
<path d="M431.0 276.5L423.2 287.5" fill="none" stroke="#565656" stroke-width="0.70" stroke-linecap="butt" stroke-linejoin="round"/>
<path d="M414.6 271.6C415.8 271.9 419.4 272.9 422.0 273.2C424.6 273.5 429.1 273.4 430.5 273.4" fill="none" stroke="#666" stroke-width="1.00" stroke-linecap="butt" stroke-linejoin="round"/>
<g transform="rotate(-22.0 436.2 272.8)">
<rect x="429.9" y="269.6" width="12.5" height="6.4" rx="2.2" fill="#fff" stroke="#565656" stroke-width="0.9"/>
<rect x="430.6" y="269.1" width="5.8" height="7.4" rx="1.2" fill="#2c2c2c"/>
<line x1="432.3" y1="270.2" x2="432.3" y2="275.4" stroke="#999" stroke-width=".55"/>
<line x1="434.1" y1="270.2" x2="434.1" y2="275.4" stroke="#888" stroke-width=".5"/>
</g>
<g transform="rotate(8 409 323.5)"><rect x="402.7" y="318.6" width="12.5" height="10" rx="4" fill="#fff" stroke="#565656" stroke-width=".9"/></g>
<ellipse cx="411.2" cy="323.6" rx="3.6" ry="4.6" fill="#fff" stroke="#565656" stroke-width="0.85" transform="rotate(8.0 411.2 323.6)"/>
<ellipse cx="411.4" cy="323.6" rx="1.8" ry="2.3" fill="#aaa" stroke="#565656" stroke-width="0.80" transform="rotate(8.0 411.4 323.6)"/>
<g transform="rotate(33 386.8 340.6)"><rect x="379.6" y="336.4" width="14.4" height="8.4" rx="1.4" fill="#2f2f2f" stroke="#2b2b2b" stroke-width=".8"/>
<line x1="383.0" y1="337.2" x2="383.0" y2="344" stroke="#999" stroke-width=".7"/>
<line x1="385.6" y1="337.2" x2="385.6" y2="344" stroke="#999" stroke-width=".7"/>
<line x1="388.2" y1="337.2" x2="388.2" y2="344" stroke="#999" stroke-width=".7"/>
<line x1="390.8" y1="337.2" x2="390.8" y2="344" stroke="#999" stroke-width=".7"/>
</g>
<path d="M373.5 333.6L378.5 333.6" fill="none" stroke="#565656" stroke-width="0.80" stroke-linecap="butt" stroke-linejoin="round"/>
<ellipse cx="378.6" cy="333.6" rx="1.0" ry="1.0" fill="#222" stroke="none" stroke-width="0.00" transform="rotate(0.0 378.6 333.6)"/>
<path d="M379.4 334.5C379.1 335.4 378.3 338.0 377.8 340.0C377.3 342.0 376.7 344.7 376.2 346.7C375.7 348.7 375.3 350.1 375.0 352.0C374.7 353.9 374.5 356.1 374.2 358.4C373.9 360.7 373.7 363.5 373.4 366.0C373.1 368.5 372.7 372.2 372.6 373.5" fill="none" stroke="#565656" stroke-width="5.00" stroke-linecap="butt" stroke-linejoin="round"/>
<path d="M379.4 334.5C379.1 335.4 378.3 338.0 377.8 340.0C377.3 342.0 376.7 344.7 376.2 346.7C375.7 348.7 375.3 350.1 375.0 352.0C374.7 353.9 374.5 356.1 374.2 358.4C373.9 360.7 373.7 363.5 373.4 366.0C373.1 368.5 372.7 372.2 372.6 373.5" fill="none" stroke="#fff" stroke-width="3.30" stroke-linecap="butt" stroke-linejoin="round"/>
<path d="M370.0 349.0C369.1 349.0 366.1 348.7 364.5 348.8C362.9 348.9 361.6 349.1 360.4 349.6C359.1 350.1 358.0 350.8 357.0 351.6C356.0 352.4 355.1 353.5 354.4 354.6C353.7 355.7 353.3 357.1 353.0 358.4C352.7 359.7 352.7 361.1 352.6 362.6C352.5 364.1 352.6 366.8 352.6 367.6" fill="none" stroke="#565656" stroke-width="4.40" stroke-linecap="butt" stroke-linejoin="round"/>
<path d="M370.0 349.0C369.1 349.0 366.1 348.7 364.5 348.8C362.9 348.9 361.6 349.1 360.4 349.6C359.1 350.1 358.0 350.8 357.0 351.6C356.0 352.4 355.1 353.5 354.4 354.6C353.7 355.7 353.3 357.1 353.0 358.4C352.7 359.7 352.7 361.1 352.6 362.6C352.5 364.1 352.6 366.8 352.6 367.6" fill="none" stroke="#fff" stroke-width="2.70" stroke-linecap="butt" stroke-linejoin="round"/>
<rect x="350.7" y="367.8" width="4.6" height="8.4" rx="1.2" fill="#fff" stroke="#565656" stroke-width="0.85" transform="rotate(0.0 353.0 372.0)"/>
<rect x="354.8" y="371.0" width="9.5" height="8.0" rx="2.6" fill="#fff" stroke="#565656" stroke-width="0.85" transform="rotate(0.0 359.5 375.0)"/>
<path d="M350.8 369.5L355.2 369.5" fill="none" stroke="#565656" stroke-width="0.90" stroke-linecap="butt" stroke-linejoin="round"/>
<path d="M350.8 374.0L355.2 374.0" fill="none" stroke="#565656" stroke-width="0.90" stroke-linecap="butt" stroke-linejoin="round"/>
<path d="M355.3 372.0L357.0 372.0" fill="none" stroke="#565656" stroke-width="0.90" stroke-linecap="butt" stroke-linejoin="round"/>
<path d="M369.2 346.0L378.4 347.0L378.0 351.6L368.8 350.6Z" fill="#6a6a6a" stroke="#2b2b2b" stroke-width="1.40" stroke-linecap="butt" stroke-linejoin="round"/>
<path d="M371.0 348.4L376.0 349.0" fill="none" stroke="#ddd" stroke-width="0.90" stroke-linecap="butt" stroke-linejoin="round"/>
<path d="M370.6 352.4L377.4 353.1L377.0 358.0L370.4 357.3Z" fill="#555" stroke="#2b2b2b" stroke-width="1.30" stroke-linecap="butt" stroke-linejoin="round"/>
<path d="M372.6 354.8L375.6 355.2" fill="none" stroke="#ccc" stroke-width="0.80" stroke-linecap="butt" stroke-linejoin="round"/>
<path d="M370.2 373.2L375.4 373.6L376.4 381.0L375.8 387.6L371.3 388.2L369.2 386.0L365.8 388.0L363.4 386.2L367.0 379.5Z" fill="#fff" stroke="#565656" stroke-width="0.85" stroke-linecap="butt" stroke-linejoin="round"/>
<path d="M367.2 379.6L376.2 380.8" fill="none" stroke="#2b2b2b" stroke-width="1.50" stroke-linecap="butt" stroke-linejoin="round"/>
<path d="M369.2 374.6L368.8 379.4" fill="none" stroke="#2b2b2b" stroke-width="1.80" stroke-linecap="butt" stroke-linejoin="round"/>
<path d="M367.6 382.6L370.2 387.4" fill="none" stroke="#2b2b2b" stroke-width="1.50" stroke-linecap="butt" stroke-linejoin="round"/>
<path d="M374.6 382.0L375.8 386.6" fill="none" stroke="#2b2b2b" stroke-width="1.30" stroke-linecap="butt" stroke-linejoin="round"/>
<path d="M365.4 387.0C364.9 387.8 363.5 390.4 362.6 392.0C361.7 393.6 361.0 394.9 360.2 396.5C359.4 398.1 358.4 399.8 357.8 401.5C357.2 403.2 356.7 404.9 356.4 406.5C356.1 408.1 355.9 410.2 355.8 411.0" fill="none" stroke="#565656" stroke-width="4.60" stroke-linecap="butt" stroke-linejoin="round"/>
<path d="M365.4 387.0C364.9 387.8 363.5 390.4 362.6 392.0C361.7 393.6 361.0 394.9 360.2 396.5C359.4 398.1 358.4 399.8 357.8 401.5C357.2 403.2 356.7 404.9 356.4 406.5C356.1 408.1 355.9 410.2 355.8 411.0" fill="none" stroke="#fff" stroke-width="2.90" stroke-linecap="butt" stroke-linejoin="round"/>
<path d="M372.6 387.6C372.3 388.4 371.5 390.9 371.0 392.5C370.5 394.1 370.1 395.8 369.6 397.5C369.1 399.2 368.4 400.9 367.8 402.5C367.2 404.1 366.5 405.4 366.0 407.0C365.5 408.6 364.8 411.2 364.6 412.0" fill="none" stroke="#565656" stroke-width="4.80" stroke-linecap="butt" stroke-linejoin="round"/>
<path d="M372.6 387.6C372.3 388.4 371.5 390.9 371.0 392.5C370.5 394.1 370.1 395.8 369.6 397.5C369.1 399.2 368.4 400.9 367.8 402.5C367.2 404.1 366.5 405.4 366.0 407.0C365.5 408.6 364.8 411.2 364.6 412.0" fill="none" stroke="#fff" stroke-width="3.10" stroke-linecap="butt" stroke-linejoin="round"/>
<rect x="352.5" y="410.2" width="5.6" height="6.6" rx="1.0" fill="#fff" stroke="#2b2b2b" stroke-width="1.20" transform="rotate(0.0 355.3 413.5)"/>
<rect x="351.7" y="416.0" width="7.0" height="8.4" rx="1.2" fill="#fff" stroke="#565656" stroke-width="0.90" transform="rotate(0.0 355.2 420.2)"/>
<path d="M353.2 416.5L353.2 424.0" fill="none" stroke="#444" stroke-width="1.60" stroke-linecap="butt" stroke-linejoin="round"/>
<rect x="361.6" y="412.0" width="6.0" height="6.0" rx="1.0" fill="#fff" stroke="#2b2b2b" stroke-width="1.20" transform="rotate(0.0 364.6 415.0)"/>
<path d="M361.6 417.2L367.6 417.2" fill="none" stroke="#2b2b2b" stroke-width="1.60" stroke-linecap="butt" stroke-linejoin="round"/>
<rect x="359.1" y="417.9" width="12.4" height="9.4" rx="2.6" fill="#fff" stroke="#565656" stroke-width="0.85" transform="rotate(0.0 365.3 422.6)"/>
<path d="M359.4 420.4L371.4 420.4" fill="none" stroke="#565656" stroke-width="0.80" stroke-linecap="butt" stroke-linejoin="round"/>
<line x1="95.5" y1="142.6" x2="102.5" y2="138.8" stroke="#555" stroke-width="0.80"/>
<line x1="359.8" y1="99.0" x2="374.6" y2="105.8" stroke="#555" stroke-width="0.80"/>
<line x1="235.5" y1="182.6" x2="252.6" y2="176.3" stroke="#555" stroke-width="0.80"/>
<line x1="293.5" y1="181.0" x2="308.5" y2="187.4" stroke="#555" stroke-width="0.80"/>
<line x1="237.6" y1="210.8" x2="245.0" y2="214.5" stroke="#555" stroke-width="0.80"/>
<line x1="311.0" y1="238.0" x2="325.0" y2="232.6" stroke="#555" stroke-width="0.80"/>
<line x1="359.5" y1="236.4" x2="375.5" y2="228.6" stroke="#555" stroke-width="0.80"/>
<line x1="402.0" y1="252.0" x2="416.0" y2="245.4" stroke="#555" stroke-width="0.80"/>
<line x1="185.2" y1="173.2" x2="200.0" y2="177.6" stroke="#555" stroke-width="0.80"/>
<line x1="185.1" y1="203.4" x2="185.1" y2="216.6" stroke="#555" stroke-width="0.80"/>
<line x1="223.4" y1="223.3" x2="214.6" y2="233.3" stroke="#555" stroke-width="0.80"/>
<line x1="136.5" y1="188.5" x2="155.0" y2="195.4" stroke="#555" stroke-width="0.80"/>
<line x1="118.0" y1="255.0" x2="132.0" y2="261.2" stroke="#555" stroke-width="0.80"/>
<line x1="169.0" y1="320.8" x2="182.4" y2="316.4" stroke="#555" stroke-width="0.80"/>
<line x1="169.0" y1="321.4" x2="184.6" y2="325.6" stroke="#555" stroke-width="0.80"/>
<line x1="200.0" y1="332.4" x2="209.5" y2="336.6" stroke="#555" stroke-width="0.80"/>
<line x1="133.5" y1="350.4" x2="146.5" y2="344.4" stroke="#555" stroke-width="0.80"/>
<line x1="244.4" y1="317.6" x2="251.7" y2="314.2" stroke="#555" stroke-width="0.80"/>
<line x1="242.8" y1="339.3" x2="256.0" y2="333.8" stroke="#555" stroke-width="0.80"/>
<line x1="262.6" y1="356.9" x2="275.2" y2="362.2" stroke="#555" stroke-width="0.80"/>
<line x1="226.0" y1="366.9" x2="239.2" y2="372.7" stroke="#555" stroke-width="0.80"/>
<line x1="218.5" y1="400.4" x2="229.0" y2="397.4" stroke="#555" stroke-width="0.80"/>
<line x1="307.7" y1="345.2" x2="300.2" y2="315.0" stroke="#555" stroke-width="0.80"/>
<line x1="336.5" y1="405.0" x2="352.8" y2="416.4" stroke="#555" stroke-width="0.80"/>
<line x1="315.7" y1="424.0" x2="328.2" y2="428.2" stroke="#555" stroke-width="0.80"/>
<line x1="371.6" y1="424.0" x2="383.0" y2="429.0" stroke="#555" stroke-width="0.80"/>
<line x1="354.0" y1="481.6" x2="372.9" y2="472.8" stroke="#555" stroke-width="0.80"/>
<line x1="256.0" y1="289.0" x2="280.6" y2="293.2" stroke="#555" stroke-width="0.80"/>
<line x1="331.5" y1="256.6" x2="303.0" y2="279.4" stroke="#555" stroke-width="0.80"/>
<line x1="330.5" y1="277.4" x2="305.5" y2="292.6" stroke="#555" stroke-width="0.80"/>
<line x1="361.5" y1="270.6" x2="327.0" y2="293.6" stroke="#555" stroke-width="0.80"/>
<line x1="358.4" y1="294.2" x2="346.5" y2="300.4" stroke="#555" stroke-width="0.80"/>
<line x1="390.0" y1="281.7" x2="363.4" y2="306.0" stroke="#555" stroke-width="0.80"/>
<line x1="389.3" y1="305.0" x2="383.4" y2="307.6" stroke="#555" stroke-width="0.80"/>
<line x1="433.6" y1="307.6" x2="415.2" y2="300.0" stroke="#555" stroke-width="0.80"/>
<line x1="431.9" y1="330.2" x2="415.2" y2="324.3" stroke="#555" stroke-width="0.80"/>
<line x1="391.0" y1="346.0" x2="392.6" y2="360.3" stroke="#555" stroke-width="0.80"/>
<line x1="285.4" y1="304.8" x2="289.4" y2="306.4" stroke="#555" stroke-width="0.80"/>
<line x1="537.5" y1="292.4" x2="546.0" y2="294.6" stroke="#555" stroke-width="0.80"/>
<line x1="522.6" y1="377.8" x2="512.4" y2="371.2" stroke="#555" stroke-width="0.80"/>
<line x1="522.6" y1="378.2" x2="505.4" y2="378.2" stroke="#555" stroke-width="0.80"/>
<line x1="521.5" y1="274.6" x2="543.5" y2="281.6" stroke="#666" stroke-width="0.90"/>
<line x1="497.2" y1="380.5" x2="500.5" y2="389.5" stroke="#666" stroke-width="0.90"/>
<g filter="url(#idf)"><circle cx="512.1" cy="270.0" r="7.6" fill="#cbd3e6"/>
<circle cx="512.1" cy="270.0" r="9.95" fill="none" stroke="#e3192c" stroke-width="5.5"/>
<text x="512.1" y="274.3" fill="#4f6aa6" stroke="#4f6aa6" stroke-width=".2" font-size="12" text-anchor="middle">10</text></g>
<g filter="url(#idf)"><circle cx="502.7" cy="399.9" r="7.6" fill="#cbd3e6"/>
<circle cx="502.7" cy="399.9" r="9.95" fill="none" stroke="#e3192c" stroke-width="5.5"/>
<text x="502.7" y="404.2" fill="#4f6aa6" stroke="#4f6aa6" stroke-width=".2" font-size="12" text-anchor="middle">13</text></g>
<g filter="url(#idf)">
<text x="80.3" y="147.6" fill="#333" stroke="#333" stroke-width=".22" font-size="12">30</text>
<text x="376.8" y="111.0" fill="#333" stroke="#333" stroke-width=".22" font-size="12">23</text>
<text x="254.0" y="180.2" fill="#333" stroke="#333" stroke-width=".22" font-size="12">18</text>
<text x="310.3" y="193.0" fill="#333" stroke="#333" stroke-width=".22" font-size="12">24</text>
<text x="246.6" y="219.6" fill="#333" stroke="#333" stroke-width=".22" font-size="12">28</text>
<text x="296.6" y="243.7" fill="#333" stroke="#333" stroke-width=".22" font-size="12">19</text>
<text x="376.8" y="231.0" fill="#333" stroke="#333" stroke-width=".22" font-size="12">18</text>
<text x="329.0" y="254.8" fill="#333" stroke="#333" stroke-width=".22" font-size="12">2</text>
<text x="332.0" y="279.8" fill="#333" stroke="#333" stroke-width=".22" font-size="12">3</text>
<text x="362.0" y="271.8" fill="#333" stroke="#333" stroke-width=".22" font-size="12">7</text>
<text x="359.4" y="296.5" fill="#333" stroke="#333" stroke-width=".22" font-size="12">9</text>
<text x="389.0" y="280.7" fill="#333" stroke="#333" stroke-width=".22" font-size="12">A</text>
<text x="248.4" y="294.4" fill="#333" stroke="#333" stroke-width=".22" font-size="12">1</text>
<text x="271.8" y="308.0" fill="#333" stroke="#333" stroke-width=".22" font-size="12">43</text>
<text x="389.4" y="308.0" fill="#333" stroke="#333" stroke-width=".22" font-size="12">21</text>
<text x="416.6" y="249.0" fill="#333" stroke="#333" stroke-width=".22" font-size="12">18</text>
<text x="435.0" y="314.2" fill="#333" stroke="#333" stroke-width=".22" font-size="12">17</text>
<text x="432.4" y="335.1" fill="#333" stroke="#333" stroke-width=".22" font-size="12">20</text>
<text x="524.6" y="296.3" fill="#333" stroke="#333" stroke-width=".22" font-size="12">11</text>
<text x="523.8" y="381.6" fill="#333" stroke="#333" stroke-width=".22" font-size="12">12</text>
<text x="103.6" y="257.6" fill="#333" stroke="#333" stroke-width=".22" font-size="12">36</text>
<text x="205.8" y="243.9" fill="#333" stroke="#333" stroke-width=".22" font-size="12">27</text>
<text x="154.6" y="326.5" fill="#333" stroke="#333" stroke-width=".22" font-size="12">33</text>
<text x="190.2" y="332.3" fill="#333" stroke="#333" stroke-width=".22" font-size="12">35</text>
<text x="118.8" y="354.9" fill="#333" stroke="#333" stroke-width=".22" font-size="12">34</text>
<text x="232.0" y="324.1" fill="#333" stroke="#333" stroke-width=".22" font-size="12">41</text>
<text x="229.4" y="344.8" fill="#333" stroke="#333" stroke-width=".22" font-size="12">40</text>
<text x="211.6" y="372.5" fill="#333" stroke="#333" stroke-width=".22" font-size="12">38</text>
<text x="247.8" y="361.4" fill="#333" stroke="#333" stroke-width=".22" font-size="12">39</text>
<text x="230.2" y="401.4" fill="#333" stroke="#333" stroke-width=".22" font-size="12">32</text>
<text x="306.4" y="354.3" fill="#333" stroke="#333" stroke-width=".22" font-size="12">8</text>
<text x="323.2" y="406.2" fill="#333" stroke="#333" stroke-width=".22" font-size="12">14</text>
<text x="330.2" y="434.4" fill="#333" stroke="#333" stroke-width=".22" font-size="12">37</text>
<text x="385.0" y="433.7" fill="#333" stroke="#333" stroke-width=".22" font-size="12">15</text>
<text x="375.2" y="477.8" fill="#333" stroke="#333" stroke-width=".22" font-size="12">31</text>
<text x="359.6" y="339.0" fill="#333" stroke="#333" stroke-width=".22" font-size="12">42</text>
<text x="357.6" y="362.1" fill="#333" stroke="#333" stroke-width=".22" font-size="12">16</text>
<text x="387.6" y="371.8" fill="#333" stroke="#333" stroke-width=".22" font-size="12">22</text>
<text x="121.0" y="191.5" fill="#333" stroke="#333" stroke-width=".22" font-size="12">29</text>
<text x="201.0" y="184.0" fill="#333" stroke="#333" stroke-width=".22" font-size="12">26</text>
<text x="179.0" y="226.6" fill="#333" stroke="#333" stroke-width=".22" font-size="12">25</text>
</g>
</svg>
</body></html>
